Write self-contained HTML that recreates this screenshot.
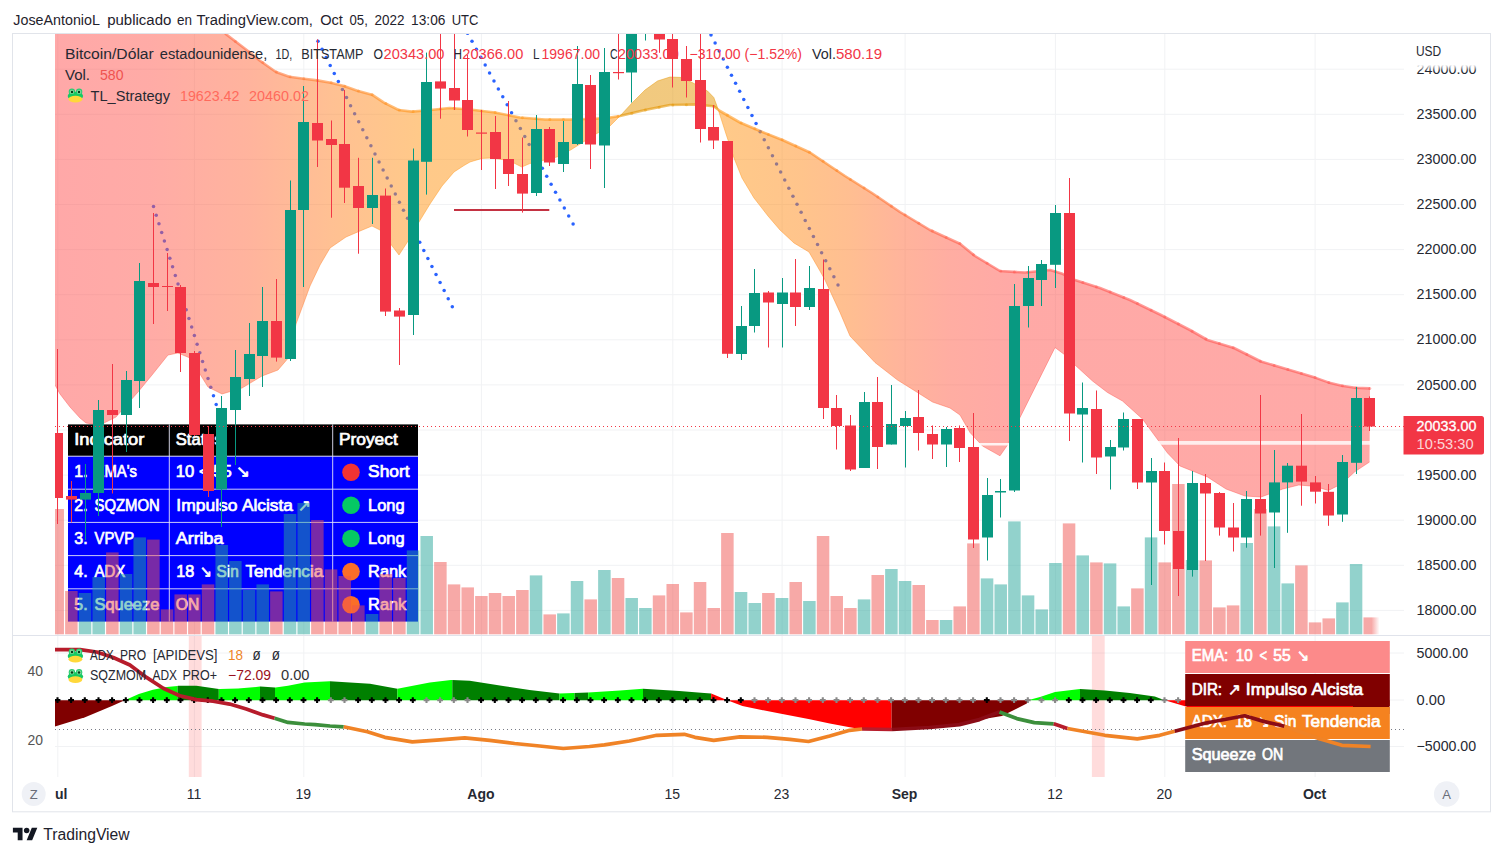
<!DOCTYPE html>
<html><head><meta charset="utf-8"><title>chart</title><style>html,body{margin:0;padding:0;background:#fff;overflow:hidden;width:1503px;height:856px}svg{display:block}</style></head><body>
<svg width="1503" height="856" viewBox="0 0 1503 856" font-family='"Liberation Sans", sans-serif'>
<defs>
<clipPath id="mc"><rect x="55" y="34" width="1349" height="601"/></clipPath>
<clipPath id="bc"><rect x="55" y="636" width="1349" height="141"/></clipPath>
<linearGradient id="cg" gradientUnits="userSpaceOnUse" x1="55" y1="0" x2="1370" y2="0">
<stop offset="0.0000" stop-color="rgb(255, 82, 82)"/>
<stop offset="0.0722" stop-color="rgb(255, 88, 78)"/>
<stop offset="0.1483" stop-color="rgb(255, 105, 60)"/>
<stop offset="0.2091" stop-color="rgb(255, 130, 40)"/>
<stop offset="0.2776" stop-color="rgb(255, 148, 20)"/>
<stop offset="0.4293" stop-color="rgb(255, 150, 20)"/>
<stop offset="0.4300" stop-color="rgb(228, 148, 0)"/>
<stop offset="0.5034" stop-color="rgb(228, 148, 0)"/>
<stop offset="0.5042" stop-color="rgb(255, 150, 20)"/>
<stop offset="0.5665" stop-color="rgb(255, 138, 25)"/>
<stop offset="0.6046" stop-color="rgb(255, 126, 36)"/>
<stop offset="0.6426" stop-color="rgb(255, 106, 56)"/>
<stop offset="0.6806" stop-color="rgb(255, 92, 70)"/>
<stop offset="0.7262" stop-color="rgb(255, 84, 78)"/>
<stop offset="1.0000" stop-color="rgb(255, 84, 80)"/>
</linearGradient>
<g id="frog"><circle cx="4.4" cy="4.3" r="3.2" fill="#2bcb72"/><circle cx="11.6" cy="4.3" r="3.2" fill="#2bcb72"/><ellipse cx="7.9" cy="8.6" rx="7.7" ry="4.4" fill="#17c964"/><circle cx="4.4" cy="4.4" r="2.2" fill="#7fdc9c"/><circle cx="11.6" cy="4.4" r="2.2" fill="#7fdc9c"/><circle cx="4.5" cy="4.5" r="1.2" fill="#053d17"/><circle cx="11.5" cy="4.5" r="1.2" fill="#053d17"/><ellipse cx="7.9" cy="11.7" rx="6.9" ry="3.4" fill="#ffd83a"/></g>
</defs>
<rect width="1503" height="856" fill="#fff"/>
<rect x="12.5" y="33.5" width="1478" height="778.3" fill="none" stroke="#e1e4ea" stroke-width="1"/>
<line x1="57.8" y1="34" x2="57.8" y2="777" stroke="#f1f2f4" stroke-width="1"/>
<line x1="194.4" y1="34" x2="194.4" y2="777" stroke="#f1f2f4" stroke-width="1"/>
<line x1="303.8" y1="34" x2="303.8" y2="777" stroke="#f1f2f4" stroke-width="1"/>
<line x1="481.4" y1="34" x2="481.4" y2="777" stroke="#f1f2f4" stroke-width="1"/>
<line x1="672.8" y1="34" x2="672.8" y2="777" stroke="#f1f2f4" stroke-width="1"/>
<line x1="782.1" y1="34" x2="782.1" y2="777" stroke="#f1f2f4" stroke-width="1"/>
<line x1="905.1" y1="34" x2="905.1" y2="777" stroke="#f1f2f4" stroke-width="1"/>
<line x1="1055.4" y1="34" x2="1055.4" y2="777" stroke="#f1f2f4" stroke-width="1"/>
<line x1="1164.8" y1="34" x2="1164.8" y2="777" stroke="#f1f2f4" stroke-width="1"/>
<line x1="1315.1" y1="34" x2="1315.1" y2="777" stroke="#f1f2f4" stroke-width="1"/>
<line x1="55" y1="69.2" x2="1404" y2="69.2" stroke="#f1f2f4" stroke-width="1"/>
<line x1="55" y1="114.3" x2="1404" y2="114.3" stroke="#f1f2f4" stroke-width="1"/>
<line x1="55" y1="159.4" x2="1404" y2="159.4" stroke="#f1f2f4" stroke-width="1"/>
<line x1="55" y1="204.5" x2="1404" y2="204.5" stroke="#f1f2f4" stroke-width="1"/>
<line x1="55" y1="249.6" x2="1404" y2="249.6" stroke="#f1f2f4" stroke-width="1"/>
<line x1="55" y1="294.7" x2="1404" y2="294.7" stroke="#f1f2f4" stroke-width="1"/>
<line x1="55" y1="339.8" x2="1404" y2="339.8" stroke="#f1f2f4" stroke-width="1"/>
<line x1="55" y1="384.9" x2="1404" y2="384.9" stroke="#f1f2f4" stroke-width="1"/>
<line x1="55" y1="430.0" x2="1404" y2="430.0" stroke="#f1f2f4" stroke-width="1"/>
<line x1="55" y1="475.1" x2="1404" y2="475.1" stroke="#f1f2f4" stroke-width="1"/>
<line x1="55" y1="520.2" x2="1404" y2="520.2" stroke="#f1f2f4" stroke-width="1"/>
<line x1="55" y1="565.3" x2="1404" y2="565.3" stroke="#f1f2f4" stroke-width="1"/>
<line x1="55" y1="610.4" x2="1404" y2="610.4" stroke="#f1f2f4" stroke-width="1"/>
<line x1="55" y1="653" x2="1404" y2="653" stroke="#f1f2f4" stroke-width="1"/>
<line x1="55" y1="700" x2="1404" y2="700" stroke="#f1f2f4" stroke-width="1"/>
<line x1="55" y1="746.5" x2="1404" y2="746.5" stroke="#f1f2f4" stroke-width="1"/>
<line x1="13" y1="635.5" x2="1490" y2="635.5" stroke="#e0e3eb" stroke-width="1"/>
<line x1="13" y1="777.5" x2="1490" y2="777.5" stroke="#fff" stroke-width="1"/>
<g clip-path="url(#mc)">
<circle cx="153.50" cy="206.60" r="1.75" fill="#2962ff"/>
<circle cx="156.23" cy="215.20" r="1.75" fill="#2962ff"/>
<circle cx="158.95" cy="223.80" r="1.75" fill="#2962ff"/>
<circle cx="161.68" cy="232.40" r="1.75" fill="#2962ff"/>
<circle cx="164.40" cy="241.00" r="1.75" fill="#2962ff"/>
<circle cx="167.13" cy="249.60" r="1.75" fill="#2962ff"/>
<circle cx="169.86" cy="258.20" r="1.75" fill="#2962ff"/>
<circle cx="172.58" cy="266.80" r="1.75" fill="#2962ff"/>
<circle cx="175.31" cy="275.40" r="1.75" fill="#2962ff"/>
<circle cx="178.03" cy="284.00" r="1.75" fill="#2962ff"/>
<circle cx="180.76" cy="292.60" r="1.75" fill="#2962ff"/>
<circle cx="183.49" cy="301.20" r="1.75" fill="#2962ff"/>
<circle cx="186.21" cy="309.80" r="1.75" fill="#2962ff"/>
<circle cx="188.94" cy="318.40" r="1.75" fill="#2962ff"/>
<circle cx="191.67" cy="327.00" r="1.75" fill="#2962ff"/>
<circle cx="194.39" cy="335.60" r="1.75" fill="#2962ff"/>
<circle cx="197.12" cy="344.20" r="1.75" fill="#2962ff"/>
<circle cx="199.84" cy="352.80" r="1.75" fill="#2962ff"/>
<circle cx="202.57" cy="361.40" r="1.75" fill="#2962ff"/>
<circle cx="205.30" cy="370.00" r="1.75" fill="#2962ff"/>
<circle cx="208.02" cy="378.60" r="1.75" fill="#2962ff"/>
<circle cx="210.75" cy="387.20" r="1.75" fill="#2962ff"/>
<circle cx="213.47" cy="395.80" r="1.75" fill="#2962ff"/>
<circle cx="216.20" cy="404.40" r="1.75" fill="#2962ff"/>
<circle cx="318.00" cy="41.30" r="1.75" fill="#2962ff"/>
<circle cx="322.07" cy="49.34" r="1.75" fill="#2962ff"/>
<circle cx="326.14" cy="57.38" r="1.75" fill="#2962ff"/>
<circle cx="330.21" cy="65.43" r="1.75" fill="#2962ff"/>
<circle cx="334.28" cy="73.47" r="1.75" fill="#2962ff"/>
<circle cx="338.35" cy="81.51" r="1.75" fill="#2962ff"/>
<circle cx="342.42" cy="89.55" r="1.75" fill="#2962ff"/>
<circle cx="346.49" cy="97.60" r="1.75" fill="#2962ff"/>
<circle cx="350.56" cy="105.64" r="1.75" fill="#2962ff"/>
<circle cx="354.63" cy="113.68" r="1.75" fill="#2962ff"/>
<circle cx="358.70" cy="121.72" r="1.75" fill="#2962ff"/>
<circle cx="362.77" cy="129.77" r="1.75" fill="#2962ff"/>
<circle cx="366.84" cy="137.81" r="1.75" fill="#2962ff"/>
<circle cx="370.91" cy="145.85" r="1.75" fill="#2962ff"/>
<circle cx="374.98" cy="153.89" r="1.75" fill="#2962ff"/>
<circle cx="379.05" cy="161.94" r="1.75" fill="#2962ff"/>
<circle cx="383.12" cy="169.98" r="1.75" fill="#2962ff"/>
<circle cx="387.18" cy="178.02" r="1.75" fill="#2962ff"/>
<circle cx="391.25" cy="186.06" r="1.75" fill="#2962ff"/>
<circle cx="395.32" cy="194.11" r="1.75" fill="#2962ff"/>
<circle cx="399.39" cy="202.15" r="1.75" fill="#2962ff"/>
<circle cx="403.46" cy="210.19" r="1.75" fill="#2962ff"/>
<circle cx="407.53" cy="218.23" r="1.75" fill="#2962ff"/>
<circle cx="411.60" cy="226.28" r="1.75" fill="#2962ff"/>
<circle cx="415.67" cy="234.32" r="1.75" fill="#2962ff"/>
<circle cx="419.74" cy="242.36" r="1.75" fill="#2962ff"/>
<circle cx="423.81" cy="250.40" r="1.75" fill="#2962ff"/>
<circle cx="427.88" cy="258.45" r="1.75" fill="#2962ff"/>
<circle cx="431.95" cy="266.49" r="1.75" fill="#2962ff"/>
<circle cx="436.02" cy="274.53" r="1.75" fill="#2962ff"/>
<circle cx="440.09" cy="282.57" r="1.75" fill="#2962ff"/>
<circle cx="444.16" cy="290.62" r="1.75" fill="#2962ff"/>
<circle cx="448.23" cy="298.66" r="1.75" fill="#2962ff"/>
<circle cx="452.30" cy="306.70" r="1.75" fill="#2962ff"/>
<circle cx="463.21" cy="25.37" r="1.75" fill="#2962ff"/>
<circle cx="467.60" cy="33.31" r="1.75" fill="#2962ff"/>
<circle cx="472.00" cy="41.25" r="1.75" fill="#2962ff"/>
<circle cx="476.40" cy="49.19" r="1.75" fill="#2962ff"/>
<circle cx="480.79" cy="57.13" r="1.75" fill="#2962ff"/>
<circle cx="485.19" cy="65.07" r="1.75" fill="#2962ff"/>
<circle cx="489.58" cy="73.02" r="1.75" fill="#2962ff"/>
<circle cx="493.98" cy="80.96" r="1.75" fill="#2962ff"/>
<circle cx="498.37" cy="88.90" r="1.75" fill="#2962ff"/>
<circle cx="502.77" cy="96.84" r="1.75" fill="#2962ff"/>
<circle cx="507.17" cy="104.78" r="1.75" fill="#2962ff"/>
<circle cx="511.56" cy="112.72" r="1.75" fill="#2962ff"/>
<circle cx="515.96" cy="120.66" r="1.75" fill="#2962ff"/>
<circle cx="520.35" cy="128.60" r="1.75" fill="#2962ff"/>
<circle cx="524.75" cy="136.55" r="1.75" fill="#2962ff"/>
<circle cx="529.14" cy="144.49" r="1.75" fill="#2962ff"/>
<circle cx="533.54" cy="152.43" r="1.75" fill="#2962ff"/>
<circle cx="537.93" cy="160.37" r="1.75" fill="#2962ff"/>
<circle cx="542.33" cy="168.31" r="1.75" fill="#2962ff"/>
<circle cx="546.73" cy="176.25" r="1.75" fill="#2962ff"/>
<circle cx="551.12" cy="184.19" r="1.75" fill="#2962ff"/>
<circle cx="555.52" cy="192.13" r="1.75" fill="#2962ff"/>
<circle cx="559.91" cy="200.08" r="1.75" fill="#2962ff"/>
<circle cx="564.31" cy="208.02" r="1.75" fill="#2962ff"/>
<circle cx="568.70" cy="215.96" r="1.75" fill="#2962ff"/>
<circle cx="573.10" cy="223.90" r="1.75" fill="#2962ff"/>
<circle cx="706.90" cy="26.84" r="1.75" fill="#2962ff"/>
<circle cx="711.00" cy="34.90" r="1.75" fill="#2962ff"/>
<circle cx="715.10" cy="42.96" r="1.75" fill="#2962ff"/>
<circle cx="719.19" cy="51.03" r="1.75" fill="#2962ff"/>
<circle cx="723.29" cy="59.09" r="1.75" fill="#2962ff"/>
<circle cx="727.39" cy="67.16" r="1.75" fill="#2962ff"/>
<circle cx="731.48" cy="75.22" r="1.75" fill="#2962ff"/>
<circle cx="735.58" cy="83.29" r="1.75" fill="#2962ff"/>
<circle cx="739.68" cy="91.35" r="1.75" fill="#2962ff"/>
<circle cx="743.77" cy="99.42" r="1.75" fill="#2962ff"/>
<circle cx="747.87" cy="107.48" r="1.75" fill="#2962ff"/>
<circle cx="751.97" cy="115.55" r="1.75" fill="#2962ff"/>
<circle cx="756.06" cy="123.61" r="1.75" fill="#2962ff"/>
<circle cx="760.16" cy="131.67" r="1.75" fill="#2962ff"/>
<circle cx="764.26" cy="139.74" r="1.75" fill="#2962ff"/>
<circle cx="768.35" cy="147.80" r="1.75" fill="#2962ff"/>
<circle cx="772.45" cy="155.87" r="1.75" fill="#2962ff"/>
<circle cx="776.55" cy="163.93" r="1.75" fill="#2962ff"/>
<circle cx="780.65" cy="172.00" r="1.75" fill="#2962ff"/>
<circle cx="784.74" cy="180.06" r="1.75" fill="#2962ff"/>
<circle cx="788.84" cy="188.13" r="1.75" fill="#2962ff"/>
<circle cx="792.94" cy="196.19" r="1.75" fill="#2962ff"/>
<circle cx="797.03" cy="204.25" r="1.75" fill="#2962ff"/>
<circle cx="801.13" cy="212.32" r="1.75" fill="#2962ff"/>
<circle cx="805.23" cy="220.38" r="1.75" fill="#2962ff"/>
<circle cx="809.32" cy="228.45" r="1.75" fill="#2962ff"/>
<circle cx="813.42" cy="236.51" r="1.75" fill="#2962ff"/>
<circle cx="817.52" cy="244.58" r="1.75" fill="#2962ff"/>
<circle cx="821.61" cy="252.64" r="1.75" fill="#2962ff"/>
<circle cx="825.71" cy="260.71" r="1.75" fill="#2962ff"/>
<circle cx="829.81" cy="268.77" r="1.75" fill="#2962ff"/>
<circle cx="833.90" cy="276.84" r="1.75" fill="#2962ff"/>
<circle cx="838.00" cy="284.90" r="1.75" fill="#2962ff"/>
<polygon points="55.0,20.0 215.0,24.0 226.7,34.7 246.7,50.0 260.0,60.7 276.0,72.0 289.3,76.7 304.0,78.7 317.3,80.4 330.7,82.7 344.0,86.0 357.3,90.7 372.0,94.7 384.0,102.7 398.7,110.0 412.0,111.6 428.0,110.3 449.5,108.0 470.0,109.5 495.0,112.5 520.0,117.5 545.0,119.5 570.0,119.5 595.0,118.8 610.0,117.5 620.0,116.0 645.0,110.0 670.0,105.0 695.0,104.5 713.8,106.2 720.0,111.0 740.0,122.5 760.0,131.0 782.5,140.0 810.0,152.5 830.0,166.0 845.0,176.0 872.0,193.0 900.0,212.0 930.0,230.0 960.0,243.8 975.0,256.0 1000.0,271.0 1025.0,272.5 1050.0,270.0 1062.5,273.8 1075.0,280.0 1100.0,288.0 1130.0,300.0 1160.0,314.5 1190.0,330.0 1207.5,340.0 1234.0,348.0 1261.0,361.5 1288.0,369.5 1315.0,377.6 1328.4,382.4 1341.8,385.7 1355.0,387.8 1370.0,388.4 1369.5,462.0 1355.0,471.6 1341.8,483.7 1328.4,490.5 1315.0,486.4 1298.8,485.0 1282.7,489.0 1261.0,497.0 1245.0,496.0 1226.0,489.0 1207.5,477.0 1195.0,472.0 1180.0,466.0 1167.5,453.0 1155.0,436.0 1142.5,419.0 1122.5,401.0 1107.5,392.5 1092.5,381.0 1075.0,365.0 1065.0,355.0 1055.0,347.5 1042.5,372.5 1030.0,397.5 1020.0,417.5 1007.5,445.0 1000.0,455.8 982.5,446.0 970.0,432.5 960.0,415.0 950.0,408.0 932.5,402.0 917.5,392.5 897.5,380.0 875.0,362.5 850.0,336.0 840.0,312.5 825.0,280.0 820.0,271.0 809.0,252.0 794.0,243.0 780.0,230.0 768.0,216.0 754.0,198.0 742.0,178.0 734.0,158.0 726.0,134.0 717.5,107.5 713.8,97.5 707.5,91.0 695.0,84.0 682.5,77.5 670.0,77.0 657.5,81.0 645.0,90.0 632.5,102.5 620.0,116.0 610.0,126.0 596.0,134.0 582.5,142.5 570.6,150.0 557.0,157.0 545.0,160.0 529.8,163.6 521.8,167.0 513.9,163.0 502.6,159.6 491.2,158.0 482.0,158.4 470.0,162.0 464.0,165.5 454.0,172.0 442.0,186.0 430.0,204.0 419.0,222.0 410.0,238.0 399.0,255.0 380.0,230.0 372.0,226.0 360.0,231.0 346.0,237.0 330.0,248.0 320.0,265.0 310.0,286.0 303.0,305.0 296.0,324.0 290.0,356.0 278.0,370.0 262.0,376.0 242.0,388.0 222.0,394.0 208.0,387.0 190.0,358.0 178.0,353.0 168.0,355.0 152.0,375.0 138.0,392.0 116.0,417.0 100.0,425.0 86.0,423.0 80.0,418.0 70.0,407.0 60.0,394.0 55.0,385.0" fill="url(#cg)" fill-opacity="0.5" fill-rule="nonzero"/>
<polyline points="55.0,20.0 215.0,24.0 226.7,34.7 246.7,50.0 260.0,60.7 276.0,72.0 289.3,76.7 304.0,78.7 317.3,80.4 330.7,82.7 344.0,86.0 357.3,90.7 372.0,94.7 384.0,102.7 398.7,110.0 412.0,111.6 428.0,110.3 449.5,108.0 470.0,109.5 495.0,112.5 520.0,117.5 545.0,119.5 570.0,119.5 595.0,118.8 610.0,117.5 620.0,116.0 645.0,110.0 670.0,105.0 695.0,104.5 713.8,106.2 720.0,111.0 740.0,122.5 760.0,131.0 782.5,140.0 810.0,152.5 830.0,166.0 845.0,176.0 872.0,193.0 900.0,212.0 930.0,230.0 960.0,243.8 975.0,256.0 1000.0,271.0 1025.0,272.5 1050.0,270.0 1062.5,273.8 1075.0,280.0 1100.0,288.0 1130.0,300.0 1160.0,314.5 1190.0,330.0 1207.5,340.0 1234.0,348.0 1261.0,361.5 1288.0,369.5 1315.0,377.6 1328.4,382.4 1341.8,385.7 1355.0,387.8 1370.0,388.4" fill="none" stroke="url(#cg)" stroke-opacity="0.58" stroke-width="2.6" stroke-linejoin="round"/>
<circle cx="221.8" cy="30.2" r="1.5" fill="url(#cg)" fill-opacity="0.45"/>
<circle cx="235.4" cy="41.4" r="1.5" fill="url(#cg)" fill-opacity="0.45"/>
<circle cx="249.1" cy="51.9" r="1.5" fill="url(#cg)" fill-opacity="0.45"/>
<circle cx="262.8" cy="62.6" r="1.5" fill="url(#cg)" fill-opacity="0.45"/>
<circle cx="276.4" cy="72.1" r="1.5" fill="url(#cg)" fill-opacity="0.45"/>
<circle cx="290.1" cy="76.8" r="1.5" fill="url(#cg)" fill-opacity="0.45"/>
<circle cx="303.8" cy="78.7" r="1.5" fill="url(#cg)" fill-opacity="0.45"/>
<circle cx="317.4" cy="80.4" r="1.5" fill="url(#cg)" fill-opacity="0.45"/>
<circle cx="331.1" cy="82.8" r="1.5" fill="url(#cg)" fill-opacity="0.45"/>
<circle cx="344.8" cy="86.3" r="1.5" fill="url(#cg)" fill-opacity="0.45"/>
<circle cx="358.4" cy="91.0" r="1.5" fill="url(#cg)" fill-opacity="0.45"/>
<circle cx="372.1" cy="94.8" r="1.5" fill="url(#cg)" fill-opacity="0.45"/>
<circle cx="385.8" cy="103.6" r="1.5" fill="url(#cg)" fill-opacity="0.45"/>
<circle cx="399.4" cy="110.1" r="1.5" fill="url(#cg)" fill-opacity="0.45"/>
<circle cx="413.1" cy="111.5" r="1.5" fill="url(#cg)" fill-opacity="0.45"/>
<circle cx="426.8" cy="110.4" r="1.5" fill="url(#cg)" fill-opacity="0.45"/>
<circle cx="440.4" cy="109.0" r="1.5" fill="url(#cg)" fill-opacity="0.45"/>
<circle cx="454.1" cy="108.3" r="1.5" fill="url(#cg)" fill-opacity="0.45"/>
<circle cx="467.8" cy="109.3" r="1.5" fill="url(#cg)" fill-opacity="0.45"/>
<circle cx="481.4" cy="110.9" r="1.5" fill="url(#cg)" fill-opacity="0.45"/>
<circle cx="495.1" cy="112.5" r="1.5" fill="url(#cg)" fill-opacity="0.45"/>
<circle cx="508.8" cy="115.3" r="1.5" fill="url(#cg)" fill-opacity="0.45"/>
<circle cx="522.4" cy="117.7" r="1.5" fill="url(#cg)" fill-opacity="0.45"/>
<circle cx="536.1" cy="118.8" r="1.5" fill="url(#cg)" fill-opacity="0.45"/>
<circle cx="549.8" cy="119.5" r="1.5" fill="url(#cg)" fill-opacity="0.45"/>
<circle cx="563.4" cy="119.5" r="1.5" fill="url(#cg)" fill-opacity="0.45"/>
<circle cx="577.1" cy="119.3" r="1.5" fill="url(#cg)" fill-opacity="0.45"/>
<circle cx="590.8" cy="118.9" r="1.5" fill="url(#cg)" fill-opacity="0.45"/>
<circle cx="604.4" cy="118.0" r="1.5" fill="url(#cg)" fill-opacity="0.45"/>
<circle cx="618.1" cy="116.3" r="1.5" fill="url(#cg)" fill-opacity="0.45"/>
<circle cx="631.8" cy="113.2" r="1.5" fill="url(#cg)" fill-opacity="0.45"/>
<circle cx="645.4" cy="109.9" r="1.5" fill="url(#cg)" fill-opacity="0.45"/>
<circle cx="659.1" cy="107.2" r="1.5" fill="url(#cg)" fill-opacity="0.45"/>
<circle cx="672.8" cy="104.9" r="1.5" fill="url(#cg)" fill-opacity="0.45"/>
<circle cx="686.4" cy="104.7" r="1.5" fill="url(#cg)" fill-opacity="0.45"/>
<circle cx="700.1" cy="105.0" r="1.5" fill="url(#cg)" fill-opacity="0.45"/>
<circle cx="713.8" cy="106.3" r="1.5" fill="url(#cg)" fill-opacity="0.45"/>
<circle cx="727.4" cy="115.3" r="1.5" fill="url(#cg)" fill-opacity="0.45"/>
<circle cx="741.1" cy="123.0" r="1.5" fill="url(#cg)" fill-opacity="0.45"/>
<circle cx="754.8" cy="128.8" r="1.5" fill="url(#cg)" fill-opacity="0.45"/>
<circle cx="768.4" cy="134.4" r="1.5" fill="url(#cg)" fill-opacity="0.45"/>
<circle cx="782.1" cy="139.8" r="1.5" fill="url(#cg)" fill-opacity="0.45"/>
<circle cx="795.8" cy="146.0" r="1.5" fill="url(#cg)" fill-opacity="0.45"/>
<circle cx="809.4" cy="152.2" r="1.5" fill="url(#cg)" fill-opacity="0.45"/>
<circle cx="823.1" cy="161.3" r="1.5" fill="url(#cg)" fill-opacity="0.45"/>
<circle cx="836.8" cy="170.5" r="1.5" fill="url(#cg)" fill-opacity="0.45"/>
<circle cx="850.4" cy="179.4" r="1.5" fill="url(#cg)" fill-opacity="0.45"/>
<circle cx="864.1" cy="188.0" r="1.5" fill="url(#cg)" fill-opacity="0.45"/>
<circle cx="877.8" cy="196.9" r="1.5" fill="url(#cg)" fill-opacity="0.45"/>
<circle cx="891.4" cy="206.2" r="1.5" fill="url(#cg)" fill-opacity="0.45"/>
<circle cx="905.1" cy="215.1" r="1.5" fill="url(#cg)" fill-opacity="0.45"/>
<circle cx="918.8" cy="223.3" r="1.5" fill="url(#cg)" fill-opacity="0.45"/>
<circle cx="932.4" cy="231.1" r="1.5" fill="url(#cg)" fill-opacity="0.45"/>
<circle cx="946.1" cy="237.4" r="1.5" fill="url(#cg)" fill-opacity="0.45"/>
<circle cx="959.8" cy="243.6" r="1.5" fill="url(#cg)" fill-opacity="0.45"/>
<circle cx="973.4" cy="254.7" r="1.5" fill="url(#cg)" fill-opacity="0.45"/>
<circle cx="987.1" cy="263.3" r="1.5" fill="url(#cg)" fill-opacity="0.45"/>
<circle cx="1000.8" cy="271.0" r="1.5" fill="url(#cg)" fill-opacity="0.45"/>
<circle cx="1014.4" cy="271.9" r="1.5" fill="url(#cg)" fill-opacity="0.45"/>
<circle cx="1028.1" cy="272.2" r="1.5" fill="url(#cg)" fill-opacity="0.45"/>
<circle cx="1041.8" cy="270.8" r="1.5" fill="url(#cg)" fill-opacity="0.45"/>
<circle cx="1055.4" cy="271.6" r="1.5" fill="url(#cg)" fill-opacity="0.45"/>
<circle cx="1069.1" cy="277.1" r="1.5" fill="url(#cg)" fill-opacity="0.45"/>
<circle cx="1082.8" cy="282.5" r="1.5" fill="url(#cg)" fill-opacity="0.45"/>
<circle cx="1096.4" cy="286.9" r="1.5" fill="url(#cg)" fill-opacity="0.45"/>
<circle cx="1110.1" cy="292.0" r="1.5" fill="url(#cg)" fill-opacity="0.45"/>
<circle cx="1123.8" cy="297.5" r="1.5" fill="url(#cg)" fill-opacity="0.45"/>
<circle cx="1137.4" cy="303.6" r="1.5" fill="url(#cg)" fill-opacity="0.45"/>
<circle cx="1151.1" cy="310.2" r="1.5" fill="url(#cg)" fill-opacity="0.45"/>
<circle cx="1164.8" cy="317.0" r="1.5" fill="url(#cg)" fill-opacity="0.45"/>
<circle cx="1178.4" cy="324.0" r="1.5" fill="url(#cg)" fill-opacity="0.45"/>
<circle cx="1192.1" cy="331.2" r="1.5" fill="url(#cg)" fill-opacity="0.45"/>
<circle cx="1205.8" cy="339.0" r="1.5" fill="url(#cg)" fill-opacity="0.45"/>
<circle cx="1219.4" cy="343.6" r="1.5" fill="url(#cg)" fill-opacity="0.45"/>
<circle cx="1233.1" cy="347.7" r="1.5" fill="url(#cg)" fill-opacity="0.45"/>
<circle cx="1246.8" cy="354.4" r="1.5" fill="url(#cg)" fill-opacity="0.45"/>
<circle cx="1260.4" cy="361.2" r="1.5" fill="url(#cg)" fill-opacity="0.45"/>
<circle cx="1274.1" cy="365.4" r="1.5" fill="url(#cg)" fill-opacity="0.45"/>
<circle cx="1287.8" cy="369.4" r="1.5" fill="url(#cg)" fill-opacity="0.45"/>
<circle cx="1301.4" cy="373.5" r="1.5" fill="url(#cg)" fill-opacity="0.45"/>
<circle cx="1315.1" cy="377.6" r="1.5" fill="url(#cg)" fill-opacity="0.45"/>
<circle cx="1328.8" cy="382.5" r="1.5" fill="url(#cg)" fill-opacity="0.45"/>
<circle cx="1342.4" cy="385.8" r="1.5" fill="url(#cg)" fill-opacity="0.45"/>
<circle cx="1356.1" cy="387.8" r="1.5" fill="url(#cg)" fill-opacity="0.45"/>
<circle cx="1369.8" cy="388.4" r="1.5" fill="url(#cg)" fill-opacity="0.45"/>
<polyline points="55.0,385.0 60.0,394.0 70.0,407.0 80.0,418.0 86.0,423.0 100.0,425.0 116.0,417.0 138.0,392.0 152.0,375.0 168.0,355.0 178.0,353.0 190.0,358.0 208.0,387.0 222.0,394.0 242.0,388.0 262.0,376.0 278.0,370.0 290.0,356.0 296.0,324.0 303.0,305.0 310.0,286.0 320.0,265.0 330.0,248.0 346.0,237.0 360.0,231.0 372.0,226.0 380.0,230.0 399.0,255.0 410.0,238.0 419.0,222.0 430.0,204.0 442.0,186.0 454.0,172.0 464.0,165.5 470.0,162.0 482.0,158.4 491.2,158.0 502.6,159.6 513.9,163.0 521.8,167.0 529.8,163.6 545.0,160.0 557.0,157.0 570.6,150.0 582.5,142.5 596.0,134.0 610.0,126.0 620.0,116.0 632.5,102.5 645.0,90.0 657.5,81.0 670.0,77.0 682.5,77.5 695.0,84.0 707.5,91.0 713.8,97.5 717.5,107.5 726.0,134.0 734.0,158.0 742.0,178.0 754.0,198.0 768.0,216.0 780.0,230.0 794.0,243.0 809.0,252.0 820.0,271.0 825.0,280.0 840.0,312.5 850.0,336.0 875.0,362.5 897.5,380.0 917.5,392.5 932.5,402.0 950.0,408.0 960.0,415.0 970.0,432.5 982.5,446.0 1000.0,455.8 1007.5,445.0 1020.0,417.5 1030.0,397.5 1042.5,372.5 1055.0,347.5 1065.0,355.0 1075.0,365.0 1092.5,381.0 1107.5,392.5 1122.5,401.0 1142.5,419.0 1155.0,436.0 1167.5,453.0 1180.0,466.0 1195.0,472.0 1207.5,477.0 1226.0,489.0 1245.0,496.0 1261.0,497.0 1282.7,489.0 1298.8,485.0 1315.0,486.4 1328.4,490.5 1341.8,483.7 1355.0,471.6 1369.5,462.0" fill="none" stroke="url(#cg)" stroke-opacity="0.45" stroke-width="1"/>
<line x1="454" y1="210" x2="549.3" y2="210" stroke="#c43242" stroke-width="2"/>
<line x1="979" y1="444.2" x2="1020" y2="444.2" stroke="#fff" stroke-opacity="0.85" stroke-width="2.4"/>
<line x1="1150" y1="442.9" x2="1371" y2="442.9" stroke="#fff" stroke-opacity="0.8" stroke-width="3.9"/>
</g>
<rect x="68" y="424.4" width="350" height="31.80000000000001" fill="#000"/>
<rect x="68" y="456.2" width="350" height="165.40000000000003" fill="#0000ff"/>
<line x1="68" y1="456.2" x2="418" y2="456.2" stroke="#e4e4f8" stroke-width="0.9"/>
<line x1="68" y1="489.2" x2="418" y2="489.2" stroke="#e4e4f8" stroke-width="0.9"/>
<line x1="68" y1="522.4" x2="418" y2="522.4" stroke="#e4e4f8" stroke-width="0.9"/>
<line x1="68" y1="555.6" x2="418" y2="555.6" stroke="#e4e4f8" stroke-width="0.9"/>
<line x1="68" y1="588.8" x2="418" y2="588.8" stroke="#e4e4f8" stroke-width="0.9"/>
<line x1="169.3" y1="424.4" x2="169.3" y2="621.6" stroke="#e4e4f8" stroke-width="0.9"/>
<line x1="332.7" y1="424.4" x2="332.7" y2="621.6" stroke="#e4e4f8" stroke-width="0.9"/>
<text x="74.3" y="444.6" font-size="16" fill="#fff" font-weight="400" text-anchor="start" textLength="70" lengthAdjust="spacingAndGlyphs" stroke="#fff" stroke-width="0.7">Indicator</text>
<text x="175.8" y="444.6" font-size="16" fill="#fff" font-weight="400" text-anchor="start" textLength="47" lengthAdjust="spacingAndGlyphs" stroke="#fff" stroke-width="0.7">Status</text>
<text x="339" y="444.6" font-size="16" fill="#fff" font-weight="400" text-anchor="start" textLength="58.7" lengthAdjust="spacingAndGlyphs" stroke="#fff" stroke-width="0.7">Proyect</text>
<text x="74.3" y="477.4" font-size="16" fill="#fff" font-weight="400" text-anchor="start" textLength="13.3" lengthAdjust="spacingAndGlyphs" stroke="#fff" stroke-width="0.7">1.</text>
<text x="94.5" y="477.4" font-size="16" fill="#fff" font-weight="400" text-anchor="start" textLength="42.4" lengthAdjust="spacingAndGlyphs" stroke="#fff" stroke-width="0.7">EMA's</text>
<text x="175.8" y="477.4" font-size="16" fill="#fff" font-weight="400" text-anchor="start" textLength="74" lengthAdjust="spacingAndGlyphs" stroke="#fff" stroke-width="0.7">10 &lt; 55 ↘</text>
<text x="74.3" y="510.6" font-size="16" fill="#fff" font-weight="400" text-anchor="start" textLength="13.3" lengthAdjust="spacingAndGlyphs" stroke="#fff" stroke-width="0.7">2.</text>
<text x="94.5" y="510.6" font-size="16" fill="#fff" font-weight="400" text-anchor="start" textLength="65.3" lengthAdjust="spacingAndGlyphs" stroke="#fff" stroke-width="0.7">SQZMON</text>
<text x="176.3" y="510.6" font-size="16" fill="#fff" font-weight="400" text-anchor="start" textLength="61.2" lengthAdjust="spacingAndGlyphs" stroke="#fff" stroke-width="0.7">Impulso</text>
<text x="241.9" y="510.6" font-size="16" fill="#fff" font-weight="400" text-anchor="start" textLength="51.0" lengthAdjust="spacingAndGlyphs" stroke="#fff" stroke-width="0.7">Alcista</text>
<text x="297.9" y="510.6" font-size="16" fill="#fff" font-weight="400" text-anchor="start" textLength="12.3" lengthAdjust="spacingAndGlyphs" stroke="#fff" stroke-width="0.7">↗</text>
<text x="74.3" y="543.8" font-size="16" fill="#fff" font-weight="400" text-anchor="start" textLength="13.3" lengthAdjust="spacingAndGlyphs" stroke="#fff" stroke-width="0.7">3.</text>
<text x="94.5" y="543.8" font-size="16" fill="#fff" font-weight="400" text-anchor="start" textLength="39.5" lengthAdjust="spacingAndGlyphs" stroke="#fff" stroke-width="0.7">VPVP</text>
<text x="175.8" y="543.8" font-size="16" fill="#fff" font-weight="400" text-anchor="start" textLength="47.6" lengthAdjust="spacingAndGlyphs" stroke="#fff" stroke-width="0.7">Arriba</text>
<text x="74.3" y="577" font-size="16" fill="#fff" font-weight="400" text-anchor="start" textLength="13.3" lengthAdjust="spacingAndGlyphs" stroke="#fff" stroke-width="0.7">4.</text>
<text x="94.5" y="577" font-size="16" fill="#fff" font-weight="400" text-anchor="start" textLength="30.8" lengthAdjust="spacingAndGlyphs" stroke="#fff" stroke-width="0.7">ADX</text>
<text x="176.3" y="577" font-size="16" fill="#fff" font-weight="400" text-anchor="start" textLength="18.0" lengthAdjust="spacingAndGlyphs" stroke="#fff" stroke-width="0.7">18</text>
<text x="199.5" y="577" font-size="16" fill="#fff" font-weight="400" text-anchor="start" textLength="11.5" lengthAdjust="spacingAndGlyphs" stroke="#fff" stroke-width="0.7">↘</text>
<text x="216.5" y="577" font-size="16" fill="#fff" font-weight="400" text-anchor="start" textLength="22.2" lengthAdjust="spacingAndGlyphs" stroke="#fff" stroke-width="0.7">Sin</text>
<text x="245.4" y="577" font-size="16" fill="#fff" font-weight="400" text-anchor="start" textLength="77.8" lengthAdjust="spacingAndGlyphs" stroke="#fff" stroke-width="0.7">Tendencia</text>
<text x="74.3" y="610" font-size="16" fill="#fff" font-weight="400" text-anchor="start" textLength="13.3" lengthAdjust="spacingAndGlyphs" stroke="#fff" stroke-width="0.7">5.</text>
<text x="94.5" y="610" font-size="16" fill="#fff" font-weight="400" text-anchor="start" textLength="64.8" lengthAdjust="spacingAndGlyphs" stroke="#fff" stroke-width="0.7">Squeeze</text>
<text x="175.8" y="610" font-size="16" fill="#fff" font-weight="400" text-anchor="start" textLength="23.5" lengthAdjust="spacingAndGlyphs" stroke="#fff" stroke-width="0.7">ON</text>
<circle cx="351" cy="472.2" r="8.8" fill="#f23333"/>
<text x="368.1" y="477.4" font-size="16" fill="#fff" font-weight="400" text-anchor="start" textLength="41.4" lengthAdjust="spacingAndGlyphs" stroke="#fff" stroke-width="0.7">Short</text>
<circle cx="351" cy="505.3" r="8.8" fill="#05c864"/>
<text x="368.1" y="510.54999999999995" font-size="16" fill="#fff" font-weight="400" text-anchor="start" textLength="36.5" lengthAdjust="spacingAndGlyphs" stroke="#fff" stroke-width="0.7">Long</text>
<circle cx="351" cy="538.5" r="8.8" fill="#05c864"/>
<text x="368.1" y="543.6999999999999" font-size="16" fill="#fff" font-weight="400" text-anchor="start" textLength="36.5" lengthAdjust="spacingAndGlyphs" stroke="#fff" stroke-width="0.7">Long</text>
<circle cx="351" cy="571.6" r="8.8" fill="#fb6e28"/>
<text x="368.1" y="576.8499999999999" font-size="16" fill="#fff" font-weight="400" text-anchor="start" textLength="38.2" lengthAdjust="spacingAndGlyphs" stroke="#fff" stroke-width="0.7">Rank</text>
<circle cx="351" cy="604.8" r="8.8" fill="#fb6e28"/>
<text x="368.1" y="610.0" font-size="16" fill="#fff" font-weight="400" text-anchor="start" textLength="38.2" lengthAdjust="spacingAndGlyphs" stroke="#fff" stroke-width="0.7">Rank</text>
<g clip-path="url(#mc)">
<rect x="51.45" y="509.0" width="12.5" height="125.3" fill="#ef5350" fill-opacity="0.5"/>
<rect x="65.12" y="591.0" width="12.5" height="43.3" fill="#ef5350" fill-opacity="0.5"/>
<rect x="78.78" y="593.0" width="12.5" height="41.3" fill="#26a69a" fill-opacity="0.5"/>
<rect x="92.45" y="577.0" width="12.5" height="57.3" fill="#26a69a" fill-opacity="0.5"/>
<rect x="106.12" y="552.4" width="12.5" height="81.9" fill="#ef5350" fill-opacity="0.5"/>
<rect x="119.78" y="574.0" width="12.5" height="60.3" fill="#26a69a" fill-opacity="0.5"/>
<rect x="133.45" y="537.4" width="12.5" height="96.9" fill="#26a69a" fill-opacity="0.5"/>
<rect x="147.12" y="539.6" width="12.5" height="94.7" fill="#ef5350" fill-opacity="0.5"/>
<rect x="160.79" y="609.4" width="12.5" height="24.9" fill="#ef5350" fill-opacity="0.5"/>
<rect x="174.45" y="594.4" width="12.5" height="39.9" fill="#ef5350" fill-opacity="0.5"/>
<rect x="188.12" y="594.4" width="12.5" height="39.9" fill="#ef5350" fill-opacity="0.5"/>
<rect x="201.79" y="584.4" width="12.5" height="49.9" fill="#ef5350" fill-opacity="0.5"/>
<rect x="215.45" y="545.0" width="12.5" height="89.3" fill="#26a69a" fill-opacity="0.5"/>
<rect x="229.12" y="561.0" width="12.5" height="73.3" fill="#26a69a" fill-opacity="0.5"/>
<rect x="242.79" y="590.0" width="12.5" height="44.3" fill="#26a69a" fill-opacity="0.5"/>
<rect x="256.45" y="584.4" width="12.5" height="49.9" fill="#26a69a" fill-opacity="0.5"/>
<rect x="270.12" y="591.4" width="12.5" height="42.9" fill="#ef5350" fill-opacity="0.5"/>
<rect x="283.79" y="514.0" width="12.5" height="120.3" fill="#26a69a" fill-opacity="0.5"/>
<rect x="297.46" y="503.0" width="12.5" height="131.3" fill="#26a69a" fill-opacity="0.5"/>
<rect x="311.12" y="520.0" width="12.5" height="114.3" fill="#ef5350" fill-opacity="0.5"/>
<rect x="324.79" y="569.4" width="12.5" height="64.9" fill="#ef5350" fill-opacity="0.5"/>
<rect x="338.46" y="576.0" width="12.5" height="58.3" fill="#ef5350" fill-opacity="0.5"/>
<rect x="352.12" y="605.4" width="12.5" height="28.9" fill="#ef5350" fill-opacity="0.5"/>
<rect x="365.79" y="614.0" width="12.5" height="20.3" fill="#26a69a" fill-opacity="0.5"/>
<rect x="379.46" y="574.0" width="12.5" height="60.3" fill="#ef5350" fill-opacity="0.5"/>
<rect x="393.12" y="578.0" width="12.5" height="56.3" fill="#ef5350" fill-opacity="0.5"/>
<rect x="406.79" y="550.4" width="12.5" height="83.9" fill="#26a69a" fill-opacity="0.5"/>
<rect x="420.46" y="536.0" width="12.5" height="98.3" fill="#26a69a" fill-opacity="0.5"/>
<rect x="434.13" y="562.0" width="12.5" height="72.3" fill="#ef5350" fill-opacity="0.5"/>
<rect x="447.79" y="584.4" width="12.5" height="49.9" fill="#ef5350" fill-opacity="0.5"/>
<rect x="461.46" y="587.4" width="12.5" height="46.9" fill="#ef5350" fill-opacity="0.5"/>
<rect x="475.13" y="596.0" width="12.5" height="38.3" fill="#ef5350" fill-opacity="0.5"/>
<rect x="488.79" y="593.0" width="12.5" height="41.3" fill="#ef5350" fill-opacity="0.5"/>
<rect x="502.46" y="596.0" width="12.5" height="38.3" fill="#ef5350" fill-opacity="0.5"/>
<rect x="516.13" y="590.0" width="12.5" height="44.3" fill="#ef5350" fill-opacity="0.5"/>
<rect x="529.80" y="575.4" width="12.5" height="58.9" fill="#26a69a" fill-opacity="0.5"/>
<rect x="543.46" y="614.4" width="12.5" height="19.9" fill="#ef5350" fill-opacity="0.5"/>
<rect x="557.13" y="613.4" width="12.5" height="20.9" fill="#26a69a" fill-opacity="0.5"/>
<rect x="570.80" y="581.0" width="12.5" height="53.3" fill="#26a69a" fill-opacity="0.5"/>
<rect x="584.46" y="599.4" width="12.5" height="34.9" fill="#ef5350" fill-opacity="0.5"/>
<rect x="598.13" y="570.0" width="12.5" height="64.3" fill="#26a69a" fill-opacity="0.5"/>
<rect x="611.80" y="578.0" width="12.5" height="56.3" fill="#ef5350" fill-opacity="0.5"/>
<rect x="625.46" y="598.0" width="12.5" height="36.3" fill="#26a69a" fill-opacity="0.5"/>
<rect x="639.13" y="608.0" width="12.5" height="26.3" fill="#26a69a" fill-opacity="0.5"/>
<rect x="652.80" y="595.4" width="12.5" height="38.9" fill="#ef5350" fill-opacity="0.5"/>
<rect x="666.47" y="584.0" width="12.5" height="50.3" fill="#ef5350" fill-opacity="0.5"/>
<rect x="680.13" y="612.4" width="12.5" height="21.9" fill="#ef5350" fill-opacity="0.5"/>
<rect x="693.80" y="582.0" width="12.5" height="52.3" fill="#ef5350" fill-opacity="0.5"/>
<rect x="707.47" y="608.0" width="12.5" height="26.3" fill="#ef5350" fill-opacity="0.5"/>
<rect x="721.13" y="533.0" width="12.5" height="101.3" fill="#ef5350" fill-opacity="0.5"/>
<rect x="734.80" y="592.0" width="12.5" height="42.3" fill="#26a69a" fill-opacity="0.5"/>
<rect x="748.47" y="603.0" width="12.5" height="31.3" fill="#26a69a" fill-opacity="0.5"/>
<rect x="762.13" y="593.0" width="12.5" height="41.3" fill="#ef5350" fill-opacity="0.5"/>
<rect x="775.80" y="598.0" width="12.5" height="36.3" fill="#26a69a" fill-opacity="0.5"/>
<rect x="789.47" y="582.0" width="12.5" height="52.3" fill="#ef5350" fill-opacity="0.5"/>
<rect x="803.13" y="601.0" width="12.5" height="33.3" fill="#26a69a" fill-opacity="0.5"/>
<rect x="816.80" y="536.0" width="12.5" height="98.3" fill="#ef5350" fill-opacity="0.5"/>
<rect x="830.47" y="596.0" width="12.5" height="38.3" fill="#ef5350" fill-opacity="0.5"/>
<rect x="844.14" y="608.0" width="12.5" height="26.3" fill="#ef5350" fill-opacity="0.5"/>
<rect x="857.80" y="599.4" width="12.5" height="34.9" fill="#26a69a" fill-opacity="0.5"/>
<rect x="871.47" y="575.0" width="12.5" height="59.3" fill="#ef5350" fill-opacity="0.5"/>
<rect x="885.14" y="569.0" width="12.5" height="65.3" fill="#26a69a" fill-opacity="0.5"/>
<rect x="898.80" y="581.0" width="12.5" height="53.3" fill="#26a69a" fill-opacity="0.5"/>
<rect x="912.47" y="585.0" width="12.5" height="49.3" fill="#ef5350" fill-opacity="0.5"/>
<rect x="926.14" y="620.0" width="12.5" height="14.3" fill="#ef5350" fill-opacity="0.5"/>
<rect x="939.81" y="620.0" width="12.5" height="14.3" fill="#26a69a" fill-opacity="0.5"/>
<rect x="953.47" y="606.4" width="12.5" height="27.9" fill="#ef5350" fill-opacity="0.5"/>
<rect x="967.14" y="543.4" width="12.5" height="90.9" fill="#ef5350" fill-opacity="0.5"/>
<rect x="980.81" y="578.4" width="12.5" height="55.9" fill="#26a69a" fill-opacity="0.5"/>
<rect x="994.47" y="584.4" width="12.5" height="49.9" fill="#26a69a" fill-opacity="0.5"/>
<rect x="1008.14" y="521.4" width="12.5" height="112.9" fill="#26a69a" fill-opacity="0.5"/>
<rect x="1021.81" y="595.4" width="12.5" height="38.9" fill="#26a69a" fill-opacity="0.5"/>
<rect x="1035.47" y="609.4" width="12.5" height="24.9" fill="#26a69a" fill-opacity="0.5"/>
<rect x="1049.14" y="563.0" width="12.5" height="71.3" fill="#26a69a" fill-opacity="0.5"/>
<rect x="1062.81" y="523.4" width="12.5" height="110.9" fill="#ef5350" fill-opacity="0.5"/>
<rect x="1076.48" y="555.4" width="12.5" height="78.9" fill="#26a69a" fill-opacity="0.5"/>
<rect x="1090.14" y="562.4" width="12.5" height="71.9" fill="#ef5350" fill-opacity="0.5"/>
<rect x="1103.81" y="563.4" width="12.5" height="70.9" fill="#26a69a" fill-opacity="0.5"/>
<rect x="1117.48" y="606.4" width="12.5" height="27.9" fill="#26a69a" fill-opacity="0.5"/>
<rect x="1131.14" y="588.4" width="12.5" height="45.9" fill="#ef5350" fill-opacity="0.5"/>
<rect x="1144.81" y="537.4" width="12.5" height="96.9" fill="#26a69a" fill-opacity="0.5"/>
<rect x="1158.48" y="562.4" width="12.5" height="71.9" fill="#ef5350" fill-opacity="0.5"/>
<rect x="1172.14" y="484.0" width="12.5" height="150.3" fill="#ef5350" fill-opacity="0.5"/>
<rect x="1185.81" y="560.0" width="12.5" height="74.3" fill="#26a69a" fill-opacity="0.5"/>
<rect x="1199.48" y="560.4" width="12.5" height="73.9" fill="#ef5350" fill-opacity="0.5"/>
<rect x="1213.14" y="607.4" width="12.5" height="26.9" fill="#ef5350" fill-opacity="0.5"/>
<rect x="1226.81" y="605.4" width="12.5" height="28.9" fill="#ef5350" fill-opacity="0.5"/>
<rect x="1240.48" y="543.0" width="12.5" height="91.3" fill="#26a69a" fill-opacity="0.5"/>
<rect x="1254.15" y="509.0" width="12.5" height="125.3" fill="#ef5350" fill-opacity="0.5"/>
<rect x="1267.81" y="526.4" width="12.5" height="107.9" fill="#26a69a" fill-opacity="0.5"/>
<rect x="1281.48" y="583.4" width="12.5" height="50.9" fill="#26a69a" fill-opacity="0.5"/>
<rect x="1295.15" y="565.4" width="12.5" height="68.9" fill="#ef5350" fill-opacity="0.5"/>
<rect x="1308.81" y="622.4" width="12.5" height="11.9" fill="#ef5350" fill-opacity="0.5"/>
<rect x="1322.48" y="618.4" width="12.5" height="15.9" fill="#ef5350" fill-opacity="0.5"/>
<rect x="1336.15" y="602.4" width="12.5" height="31.9" fill="#26a69a" fill-opacity="0.5"/>
<rect x="1349.82" y="564.0" width="12.5" height="70.3" fill="#26a69a" fill-opacity="0.5"/>
<linearGradient id="vf" x1="0" y1="0" x2="1" y2="0"><stop offset="0.5" stop-color="#ef5350" stop-opacity="0.5"/><stop offset="1" stop-color="#ef5350" stop-opacity="0"/></linearGradient>
<rect x="1363.48" y="617.4" width="16" height="16.9" fill="url(#vf)"/>
<rect x="57" y="349.0" width="1" height="175.0" fill="#f23645"/>
<rect x="52" y="433.0" width="11" height="65.0" fill="#f23645"/>
<rect x="71" y="481.0" width="1" height="41.4" fill="#f23645"/>
<rect x="66" y="496.0" width="11" height="3.6" fill="#f23645"/>
<rect x="85" y="464.0" width="1" height="76.0" fill="#089981"/>
<rect x="80" y="493.0" width="11" height="6.6" fill="#089981"/>
<rect x="98" y="400.0" width="1" height="116.0" fill="#089981"/>
<rect x="93" y="410.0" width="11" height="83.0" fill="#089981"/>
<rect x="112" y="364.0" width="1" height="129.5" fill="#f23645"/>
<rect x="107" y="410.0" width="11" height="5.0" fill="#f23645"/>
<rect x="126" y="371.0" width="1" height="81.0" fill="#089981"/>
<rect x="121" y="380.0" width="11" height="35.0" fill="#089981"/>
<rect x="139" y="263.0" width="1" height="145.0" fill="#089981"/>
<rect x="134" y="281.0" width="11" height="100.0" fill="#089981"/>
<rect x="153" y="213.0" width="1" height="111.0" fill="#f23645"/>
<rect x="148" y="283.0" width="11" height="4.0" fill="#f23645"/>
<rect x="167" y="253.0" width="1" height="58.0" fill="#f23645"/>
<rect x="162" y="286.0" width="11" height="1.0" fill="#f23645"/>
<rect x="180" y="285.0" width="1" height="87.0" fill="#f23645"/>
<rect x="175" y="287.0" width="11" height="66.0" fill="#f23645"/>
<rect x="194" y="351.0" width="1" height="85.0" fill="#f23645"/>
<rect x="189" y="353.0" width="11" height="82.0" fill="#f23645"/>
<rect x="208" y="426.0" width="1" height="71.0" fill="#f23645"/>
<rect x="203" y="434.0" width="11" height="57.0" fill="#f23645"/>
<rect x="221" y="396.0" width="1" height="131.0" fill="#089981"/>
<rect x="216" y="408.0" width="11" height="81.5" fill="#089981"/>
<rect x="235" y="350.0" width="1" height="115.0" fill="#089981"/>
<rect x="230" y="377.0" width="11" height="33.0" fill="#089981"/>
<rect x="249" y="323.0" width="1" height="73.0" fill="#089981"/>
<rect x="244" y="354.0" width="11" height="25.0" fill="#089981"/>
<rect x="262" y="287.0" width="1" height="100.0" fill="#089981"/>
<rect x="257" y="321.0" width="11" height="35.0" fill="#089981"/>
<rect x="276" y="279.0" width="1" height="82.6" fill="#f23645"/>
<rect x="271" y="321.0" width="11" height="36.6" fill="#f23645"/>
<rect x="290" y="180.5" width="1" height="180.5" fill="#089981"/>
<rect x="285" y="210.0" width="11" height="149.0" fill="#089981"/>
<rect x="303" y="86.0" width="1" height="201.0" fill="#089981"/>
<rect x="298" y="122.0" width="11" height="88.0" fill="#089981"/>
<rect x="317" y="39.3" width="1" height="127.7" fill="#f23645"/>
<rect x="312" y="123.0" width="11" height="17.5" fill="#f23645"/>
<rect x="331" y="120.5" width="1" height="97.2" fill="#f23645"/>
<rect x="326" y="139.0" width="11" height="6.0" fill="#f23645"/>
<rect x="344" y="90.0" width="1" height="113.0" fill="#f23645"/>
<rect x="339" y="144.0" width="11" height="43.7" fill="#f23645"/>
<rect x="358" y="157.8" width="1" height="95.9" fill="#f23645"/>
<rect x="353" y="186.0" width="11" height="22.0" fill="#f23645"/>
<rect x="372" y="157.8" width="1" height="66.2" fill="#089981"/>
<rect x="367" y="195.0" width="11" height="13.0" fill="#089981"/>
<rect x="385" y="188.5" width="1" height="127.5" fill="#f23645"/>
<rect x="380" y="195.6" width="11" height="116.0" fill="#f23645"/>
<rect x="399" y="308.0" width="1" height="57.0" fill="#f23645"/>
<rect x="394" y="310.5" width="11" height="6.1" fill="#f23645"/>
<rect x="413" y="148.5" width="1" height="186.5" fill="#089981"/>
<rect x="408" y="160.5" width="11" height="154.5" fill="#089981"/>
<rect x="426" y="52.6" width="1" height="142.0" fill="#089981"/>
<rect x="421" y="82.0" width="11" height="79.8" fill="#089981"/>
<rect x="440" y="30.0" width="1" height="88.7" fill="#f23645"/>
<rect x="435" y="81.4" width="11" height="7.2" fill="#f23645"/>
<rect x="454" y="30.0" width="1" height="80.0" fill="#f23645"/>
<rect x="449" y="88.0" width="11" height="12.5" fill="#f23645"/>
<rect x="467" y="55.0" width="1" height="81.5" fill="#f23645"/>
<rect x="462" y="100.0" width="11" height="30.0" fill="#f23645"/>
<rect x="481" y="110.0" width="1" height="60.0" fill="#f23645"/>
<rect x="476" y="132.5" width="11" height="1.2" fill="#f23645"/>
<rect x="495" y="116.0" width="1" height="73.0" fill="#f23645"/>
<rect x="490" y="132.0" width="11" height="27.0" fill="#f23645"/>
<rect x="508" y="101.0" width="1" height="85.0" fill="#f23645"/>
<rect x="503" y="159.0" width="11" height="15.0" fill="#f23645"/>
<rect x="522" y="137.5" width="1" height="75.1" fill="#f23645"/>
<rect x="517" y="174.0" width="11" height="19.6" fill="#f23645"/>
<rect x="536" y="115.0" width="1" height="81.0" fill="#089981"/>
<rect x="531" y="129.0" width="11" height="64.0" fill="#089981"/>
<rect x="549" y="127.0" width="1" height="39.0" fill="#f23645"/>
<rect x="544" y="129.0" width="11" height="33.5" fill="#f23645"/>
<rect x="563" y="121.0" width="1" height="51.0" fill="#089981"/>
<rect x="558" y="142.0" width="11" height="22.0" fill="#089981"/>
<rect x="577" y="46.0" width="1" height="99.0" fill="#089981"/>
<rect x="572" y="84.0" width="11" height="60.0" fill="#089981"/>
<rect x="590" y="75.0" width="1" height="94.0" fill="#f23645"/>
<rect x="585" y="85.0" width="11" height="59.5" fill="#f23645"/>
<rect x="604" y="48.0" width="1" height="140.0" fill="#089981"/>
<rect x="599" y="72.0" width="11" height="73.5" fill="#089981"/>
<rect x="618" y="30.0" width="1" height="49.5" fill="#f23645"/>
<rect x="613" y="72.0" width="11" height="1.2" fill="#f23645"/>
<rect x="631" y="25.0" width="1" height="77.5" fill="#089981"/>
<rect x="626" y="28.0" width="11" height="44.5" fill="#089981"/>
<rect x="645" y="10.0" width="1" height="30.5" fill="#089981"/>
<rect x="640" y="15.0" width="11" height="10.0" fill="#089981"/>
<rect x="659" y="20.0" width="1" height="32.8" fill="#f23645"/>
<rect x="654" y="25.0" width="11" height="14.5" fill="#f23645"/>
<rect x="672" y="25.0" width="1" height="62.5" fill="#f23645"/>
<rect x="667" y="39.0" width="11" height="20.0" fill="#f23645"/>
<rect x="686" y="46.0" width="1" height="51.5" fill="#f23645"/>
<rect x="681" y="59.0" width="11" height="22.0" fill="#f23645"/>
<rect x="700" y="30.0" width="1" height="112.5" fill="#f23645"/>
<rect x="695" y="80.0" width="11" height="49.0" fill="#f23645"/>
<rect x="713" y="105.0" width="1" height="44.0" fill="#f23645"/>
<rect x="708" y="127.0" width="11" height="13.5" fill="#f23645"/>
<rect x="727" y="141.0" width="1" height="217.0" fill="#f23645"/>
<rect x="722" y="141.0" width="11" height="212.8" fill="#f23645"/>
<rect x="741" y="306.0" width="1" height="54.0" fill="#089981"/>
<rect x="736" y="326.0" width="11" height="28.0" fill="#089981"/>
<rect x="754" y="269.0" width="1" height="63.5" fill="#089981"/>
<rect x="749" y="293.0" width="11" height="33.0" fill="#089981"/>
<rect x="768" y="291.0" width="1" height="56.5" fill="#f23645"/>
<rect x="763" y="292.5" width="11" height="10.0" fill="#f23645"/>
<rect x="782" y="278.0" width="1" height="69.5" fill="#089981"/>
<rect x="777" y="292.5" width="11" height="11.5" fill="#089981"/>
<rect x="795" y="259.0" width="1" height="67.0" fill="#f23645"/>
<rect x="790" y="292.5" width="11" height="14.5" fill="#f23645"/>
<rect x="809" y="266.0" width="1" height="44.0" fill="#089981"/>
<rect x="804" y="288.0" width="11" height="19.0" fill="#089981"/>
<rect x="823" y="259.5" width="1" height="159.5" fill="#f23645"/>
<rect x="818" y="289.0" width="11" height="119.0" fill="#f23645"/>
<rect x="836" y="395.0" width="1" height="54.5" fill="#f23645"/>
<rect x="831" y="408.0" width="11" height="18.0" fill="#f23645"/>
<rect x="850" y="415.0" width="1" height="56.0" fill="#f23645"/>
<rect x="845" y="425.5" width="11" height="44.0" fill="#f23645"/>
<rect x="864" y="392.0" width="1" height="76.0" fill="#089981"/>
<rect x="859" y="402.0" width="11" height="66.0" fill="#089981"/>
<rect x="877" y="377.0" width="1" height="92.0" fill="#f23645"/>
<rect x="872" y="402.0" width="11" height="45.0" fill="#f23645"/>
<rect x="891" y="385.0" width="1" height="59.5" fill="#089981"/>
<rect x="886" y="424.0" width="11" height="20.5" fill="#089981"/>
<rect x="905" y="411.0" width="1" height="56.5" fill="#089981"/>
<rect x="900" y="418.0" width="11" height="8.0" fill="#089981"/>
<rect x="918" y="390.0" width="1" height="60.5" fill="#f23645"/>
<rect x="913" y="417.0" width="11" height="16.0" fill="#f23645"/>
<rect x="932" y="425.5" width="1" height="33.5" fill="#f23645"/>
<rect x="927" y="434.0" width="11" height="10.5" fill="#f23645"/>
<rect x="946" y="427.0" width="1" height="40.0" fill="#089981"/>
<rect x="941" y="429.0" width="11" height="15.5" fill="#089981"/>
<rect x="959" y="425.5" width="1" height="36.5" fill="#f23645"/>
<rect x="954" y="428.0" width="11" height="20.0" fill="#f23645"/>
<rect x="973" y="413.0" width="1" height="135.0" fill="#f23645"/>
<rect x="968" y="447.0" width="11" height="92.5" fill="#f23645"/>
<rect x="987" y="478.0" width="1" height="82.5" fill="#089981"/>
<rect x="982" y="495.0" width="11" height="42.5" fill="#089981"/>
<rect x="1000" y="479.0" width="1" height="38.5" fill="#089981"/>
<rect x="995" y="491.0" width="11" height="1.5" fill="#089981"/>
<rect x="1014" y="284.0" width="1" height="208.0" fill="#089981"/>
<rect x="1009" y="306.0" width="11" height="184.5" fill="#089981"/>
<rect x="1028" y="266.0" width="1" height="61.5" fill="#089981"/>
<rect x="1023" y="278.0" width="11" height="28.0" fill="#089981"/>
<rect x="1041" y="260.0" width="1" height="46.0" fill="#089981"/>
<rect x="1036" y="264.0" width="11" height="16.0" fill="#089981"/>
<rect x="1055" y="205.0" width="1" height="83.0" fill="#089981"/>
<rect x="1050" y="213.0" width="11" height="51.8" fill="#089981"/>
<rect x="1069" y="178.0" width="1" height="263.0" fill="#f23645"/>
<rect x="1064" y="213.0" width="11" height="200.5" fill="#f23645"/>
<rect x="1082" y="382.5" width="1" height="80.0" fill="#089981"/>
<rect x="1077" y="408.0" width="11" height="6.5" fill="#089981"/>
<rect x="1096" y="390.5" width="1" height="83.5" fill="#f23645"/>
<rect x="1091" y="409.0" width="11" height="48.5" fill="#f23645"/>
<rect x="1110" y="440.0" width="1" height="49.5" fill="#089981"/>
<rect x="1105" y="447.0" width="11" height="9.5" fill="#089981"/>
<rect x="1123" y="412.5" width="1" height="38.0" fill="#089981"/>
<rect x="1118" y="419.0" width="11" height="28.5" fill="#089981"/>
<rect x="1137" y="419.0" width="1" height="70.0" fill="#f23645"/>
<rect x="1132" y="419.0" width="11" height="63.5" fill="#f23645"/>
<rect x="1151" y="458.0" width="1" height="127.0" fill="#089981"/>
<rect x="1146" y="471.0" width="11" height="11.5" fill="#089981"/>
<rect x="1164" y="462.5" width="1" height="82.0" fill="#f23645"/>
<rect x="1159" y="471.0" width="11" height="60.0" fill="#f23645"/>
<rect x="1178" y="438.0" width="1" height="158.0" fill="#f23645"/>
<rect x="1173" y="531.0" width="11" height="38.0" fill="#f23645"/>
<rect x="1192" y="471.0" width="1" height="105.6" fill="#089981"/>
<rect x="1187" y="483.0" width="11" height="87.0" fill="#089981"/>
<rect x="1205" y="474.0" width="1" height="87.0" fill="#f23645"/>
<rect x="1200" y="483.0" width="11" height="10.5" fill="#f23645"/>
<rect x="1219" y="492.0" width="1" height="43.6" fill="#f23645"/>
<rect x="1214" y="493.0" width="11" height="34.5" fill="#f23645"/>
<rect x="1233" y="503.0" width="1" height="48.5" fill="#f23645"/>
<rect x="1228" y="527.5" width="11" height="10.0" fill="#f23645"/>
<rect x="1246" y="491.0" width="1" height="56.7" fill="#089981"/>
<rect x="1241" y="499.0" width="11" height="38.5" fill="#089981"/>
<rect x="1260" y="395.0" width="1" height="140.6" fill="#f23645"/>
<rect x="1255" y="499.0" width="11" height="14.5" fill="#f23645"/>
<rect x="1274" y="450.0" width="1" height="118.0" fill="#089981"/>
<rect x="1269" y="482.4" width="11" height="30.1" fill="#089981"/>
<rect x="1287" y="463.0" width="1" height="69.8" fill="#089981"/>
<rect x="1282" y="465.7" width="11" height="16.7" fill="#089981"/>
<rect x="1301" y="414.0" width="1" height="91.7" fill="#f23645"/>
<rect x="1296" y="465.7" width="11" height="15.9" fill="#f23645"/>
<rect x="1315" y="476.0" width="1" height="27.5" fill="#f23645"/>
<rect x="1310" y="482.4" width="11" height="9.3" fill="#f23645"/>
<rect x="1328" y="484.0" width="1" height="41.8" fill="#f23645"/>
<rect x="1323" y="491.8" width="11" height="23.7" fill="#f23645"/>
<rect x="1342" y="455.0" width="1" height="66.8" fill="#089981"/>
<rect x="1337" y="462.0" width="11" height="52.5" fill="#089981"/>
<rect x="1356" y="387.0" width="1" height="87.0" fill="#089981"/>
<rect x="1351" y="398.0" width="11" height="64.8" fill="#089981"/>
<rect x="1369" y="396.4" width="1" height="34.6" fill="#f23645"/>
<rect x="1364" y="398.0" width="11" height="28.5" fill="#f23645"/>
<line x1="55" y1="426.5" x2="1404" y2="426.5" stroke="#f23645" stroke-width="1" stroke-dasharray="1 3"/>
</g>
<text x="65" y="59.3" font-size="14" fill="#262932" font-weight="400" text-anchor="start" textLength="88.8" lengthAdjust="spacingAndGlyphs" >Bitcoin/Dólar</text>
<text x="159.8" y="59.3" font-size="14" fill="#262932" font-weight="400" text-anchor="start" textLength="107.5" lengthAdjust="spacingAndGlyphs" >estadounidense,</text>
<text x="275.6" y="59.3" font-size="14" fill="#262932" font-weight="400" text-anchor="start" textLength="16.7" lengthAdjust="spacingAndGlyphs" >1D,</text>
<text x="301.3" y="59.3" font-size="14" fill="#262932" font-weight="400" text-anchor="start" textLength="62.2" lengthAdjust="spacingAndGlyphs" >BITSTAMP</text>
<text x="373.5" y="59.3" font-size="14" fill="#262932" font-weight="400" text-anchor="start" textLength="9.5" lengthAdjust="spacingAndGlyphs" >O</text>
<text x="383.5" y="59.3" font-size="14" fill="#f23645" font-weight="400" text-anchor="start" textLength="61" lengthAdjust="spacingAndGlyphs" >20343.00</text>
<text x="453.4" y="59.3" font-size="14" fill="#262932" font-weight="400" text-anchor="start" textLength="8.5" lengthAdjust="spacingAndGlyphs" >H</text>
<text x="462.3" y="59.3" font-size="14" fill="#f23645" font-weight="400" text-anchor="start" textLength="61" lengthAdjust="spacingAndGlyphs" >20366.00</text>
<text x="533" y="59.3" font-size="14" fill="#262932" font-weight="400" text-anchor="start" textLength="6.5" lengthAdjust="spacingAndGlyphs" >L</text>
<text x="541.5" y="59.3" font-size="14" fill="#f23645" font-weight="400" text-anchor="start" textLength="58.5" lengthAdjust="spacingAndGlyphs" >19967.00</text>
<text x="610" y="59.3" font-size="14" fill="#262932" font-weight="400" text-anchor="start" textLength="7.7" lengthAdjust="spacingAndGlyphs" >C</text>
<text x="617.8" y="59.3" font-size="14" fill="#f23645" font-weight="400" text-anchor="start" textLength="61" lengthAdjust="spacingAndGlyphs" >20033.00</text>
<text x="689.5" y="59.3" font-size="14" fill="#f23645" font-weight="400" text-anchor="start" textLength="112.5" lengthAdjust="spacingAndGlyphs" >−310.00 (−1.52%)</text>
<text x="812" y="59.3" font-size="14" fill="#262932" font-weight="400" text-anchor="start" textLength="24" lengthAdjust="spacingAndGlyphs" >Vol.</text>
<text x="836" y="59.3" font-size="14" fill="#f23645" font-weight="400" text-anchor="start" textLength="46" lengthAdjust="spacingAndGlyphs" >580.19</text>
<text x="65" y="80" font-size="14" fill="#262932" font-weight="400" text-anchor="start" textLength="25" lengthAdjust="spacingAndGlyphs" >Vol.</text>
<text x="100" y="80" font-size="14" fill="#ef5350" font-weight="400" text-anchor="start" textLength="23.5" lengthAdjust="spacingAndGlyphs" >580</text>
<use href="#frog" x="67.5" y="87.5"/>
<text x="90.5" y="100.5" font-size="14" fill="#262932" font-weight="400" text-anchor="start" textLength="79.5" lengthAdjust="spacingAndGlyphs" >TL_Strategy</text>
<text x="180" y="100.5" font-size="14" fill="#ff6a5c" font-weight="400" text-anchor="start" textLength="59.5" lengthAdjust="spacingAndGlyphs" >19623.42</text>
<text x="249" y="100.5" font-size="14" fill="#ff6a5c" font-weight="400" text-anchor="start" textLength="60" lengthAdjust="spacingAndGlyphs" >20460.02</text>
<text x="1416.6" y="73.8" font-size="14" fill="#262932" font-weight="400" text-anchor="start" textLength="59.8" lengthAdjust="spacingAndGlyphs" >24000.00</text>
<text x="1416.6" y="118.9" font-size="14" fill="#262932" font-weight="400" text-anchor="start" textLength="59.8" lengthAdjust="spacingAndGlyphs" >23500.00</text>
<text x="1416.6" y="164.0" font-size="14" fill="#262932" font-weight="400" text-anchor="start" textLength="59.8" lengthAdjust="spacingAndGlyphs" >23000.00</text>
<text x="1416.6" y="209.1" font-size="14" fill="#262932" font-weight="400" text-anchor="start" textLength="59.8" lengthAdjust="spacingAndGlyphs" >22500.00</text>
<text x="1416.6" y="254.20000000000002" font-size="14" fill="#262932" font-weight="400" text-anchor="start" textLength="59.8" lengthAdjust="spacingAndGlyphs" >22000.00</text>
<text x="1416.6" y="299.3" font-size="14" fill="#262932" font-weight="400" text-anchor="start" textLength="59.8" lengthAdjust="spacingAndGlyphs" >21500.00</text>
<text x="1416.6" y="344.40000000000003" font-size="14" fill="#262932" font-weight="400" text-anchor="start" textLength="59.8" lengthAdjust="spacingAndGlyphs" >21000.00</text>
<text x="1416.6" y="389.5" font-size="14" fill="#262932" font-weight="400" text-anchor="start" textLength="59.8" lengthAdjust="spacingAndGlyphs" >20500.00</text>
<text x="1416.6" y="434.6" font-size="14" fill="#262932" font-weight="400" text-anchor="start" textLength="59.8" lengthAdjust="spacingAndGlyphs" >20000.00</text>
<text x="1416.6" y="479.70000000000005" font-size="14" fill="#262932" font-weight="400" text-anchor="start" textLength="59.8" lengthAdjust="spacingAndGlyphs" >19500.00</text>
<text x="1416.6" y="524.8000000000001" font-size="14" fill="#262932" font-weight="400" text-anchor="start" textLength="59.8" lengthAdjust="spacingAndGlyphs" >19000.00</text>
<text x="1416.6" y="569.9000000000001" font-size="14" fill="#262932" font-weight="400" text-anchor="start" textLength="59.8" lengthAdjust="spacingAndGlyphs" >18500.00</text>
<text x="1416.6" y="615.0000000000001" font-size="14" fill="#262932" font-weight="400" text-anchor="start" textLength="59.8" lengthAdjust="spacingAndGlyphs" >18000.00</text>
<linearGradient id="uf" x1="0" y1="0" x2="0" y2="1"><stop offset="0" stop-color="#fff" stop-opacity="1"/><stop offset="0.8" stop-color="#fff" stop-opacity="1"/><stop offset="1" stop-color="#fff" stop-opacity="0"/></linearGradient>
<rect x="1405" y="40" width="84" height="31" fill="url(#uf)"/>
<text x="1416" y="55.9" font-size="14" fill="#262932" font-weight="400" text-anchor="start" textLength="25.2" lengthAdjust="spacingAndGlyphs" >USD</text>
<path d="M1403.5 416 H1481.5 a2.5 2.5 0 0 1 2.5 2.5 V452 a2.5 2.5 0 0 1 -2.5 2.5 H1403.5Z" fill="#f23645"/>
<text x="1416.6" y="431.4" font-size="14" fill="#fff" font-weight="400" text-anchor="start" textLength="59.8" lengthAdjust="spacingAndGlyphs" stroke="#fff" stroke-width="0.3">20033.00</text>
<text x="1416.6" y="449.4" font-size="14" fill="#fff" font-weight="400" text-anchor="start" textLength="57" lengthAdjust="spacingAndGlyphs" fill-opacity="0.8">10:53:30</text>
<text x="1416.6" y="658" font-size="14" fill="#262932" font-weight="400" text-anchor="start" textLength="51.5" lengthAdjust="spacingAndGlyphs" >5000.00</text>
<text x="1416.6" y="704.5" font-size="14" fill="#262932" font-weight="400" text-anchor="start" textLength="28.5" lengthAdjust="spacingAndGlyphs" >0.00</text>
<text x="1416.6" y="750.5" font-size="14" fill="#262932" font-weight="400" text-anchor="start" textLength="59.5" lengthAdjust="spacingAndGlyphs" >−5000.00</text>
<g clip-path="url(#bc)">
<rect x="188.8" y="636" width="12.8" height="141" fill="#ff5252" fill-opacity="0.2"/>
<rect x="1091.9" y="636" width="12.8" height="141" fill="#ff5252" fill-opacity="0.2"/>
<polygon points="55.0,700.2 55.0,726.6 85.1,717.2 112.0,706.1 124.8,700.2" fill="#800000"/>
<polygon points="124.8,700.2 124.8,700.2 138.8,693.9 152.9,689.8 166.9,687.1 177.5,685.9 177.5,700.2" fill="#00ff00"/>
<polygon points="177.5,700.2 177.5,685.9 178.1,685.8 196.4,685.8 218.8,689.0 218.8,700.2" fill="#008000"/>
<polygon points="218.8,700.2 218.8,689.0 219.7,689.1 238.0,688.6 260.0,686.6 260.0,700.2" fill="#00ff00"/>
<polygon points="260.0,700.2 260.0,686.6 260.5,686.6 275.0,687.4 275.0,700.2" fill="#008000"/>
<polygon points="275.0,700.2 275.0,687.4 275.5,687.4 288.0,685.8 304.6,682.4 330.0,681.2 330.0,700.2" fill="#00ff00"/>
<polygon points="330.0,700.2 330.0,681.2 370.0,683.7 397.4,688.7 397.4,700.2" fill="#008000"/>
<polygon points="397.4,700.2 397.4,688.7 429.8,682.4 451.0,680.0 452.3,680.0 452.3,700.2" fill="#00ff00"/>
<polygon points="452.3,700.2 452.3,680.0 469.7,680.7 504.7,686.2 529.6,690.0 559.5,693.6 559.5,700.2" fill="#008000"/>
<polygon points="559.5,700.2 559.5,693.6 573.3,693.0 574.5,693.0 574.5,700.2" fill="#00ff00"/>
<polygon points="574.5,700.2 574.5,693.0 588.2,692.6 588.2,700.2" fill="#008000"/>
<polygon points="588.2,700.2 588.2,692.6 620.0,690.5 643.0,688.7 643.0,700.2" fill="#00ff00"/>
<polygon points="643.0,700.2 643.0,688.7 679.3,691.1 704.3,693.1 711.2,693.6 711.2,700.2" fill="#008000"/>
<polygon points="711.2,700.2 711.2,693.6 727.4,700.2 727.4,700.2" fill="#ff0000"/>
<polygon points="727.4,700.2 727.4,700.2 742.4,706.0 779.8,713.6 809.7,719.3 829.7,723.6 849.7,727.3 862.1,729.3 891.6,729.6 891.6,700.2" fill="#ff0000"/>
<polygon points="891.6,700.2 891.6,729.6 892.0,729.6 929.5,727.3 959.4,724.8 979.4,719.8 1001.9,716.1 1026.8,703.6 1028.0,700.2 1028.0,700.2" fill="#800000"/>
<polygon points="1028.0,700.2 1028.0,700.2 1040.0,697.0 1055.0,692.0 1080.0,689.0 1080.0,700.2" fill="#00ff00"/>
<polygon points="1080.0,700.2 1080.0,689.0 1104.9,690.4 1129.8,692.9 1154.8,696.6 1164.7,700.2 1164.7,700.2" fill="#008000"/>
<polygon points="1164.7,700.2 1164.7,700.2 1185.0,706.2 1200.0,711.0 1353.0,716.0 1353.0,700.2" fill="#ff0000"/>
<polygon points="1353.0,700.2 1353.0,716.0 1389.5,714.0 1389.5,700.2" fill="#800000"/>
<line x1="55" y1="729.5" x2="1404" y2="729.5" stroke="#787b86" stroke-width="1" stroke-dasharray="1 3"/>
<path d="M54.6 700.1 H60.4 M57.5 697.2 V703.0" stroke="#000000" stroke-width="2.1" fill="none"/>
<path d="M68.2 700.1 H74.0 M71.1 697.2 V703.0" stroke="#000000" stroke-width="2.1" fill="none"/>
<path d="M81.9 700.1 H87.7 M84.8 697.2 V703.0" stroke="#000000" stroke-width="2.1" fill="none"/>
<path d="M95.6 700.1 H101.4 M98.5 697.2 V703.0" stroke="#000000" stroke-width="2.1" fill="none"/>
<path d="M109.2 700.1 H115.0 M112.1 697.2 V703.0" stroke="#000000" stroke-width="2.1" fill="none"/>
<path d="M122.9 700.1 H128.7 M125.8 697.2 V703.0" stroke="#000000" stroke-width="2.1" fill="none"/>
<path d="M136.6 700.1 H142.4 M139.5 697.2 V703.0" stroke="#000000" stroke-width="2.1" fill="none"/>
<path d="M150.2 700.1 H156.0 M153.1 697.2 V703.0" stroke="#000000" stroke-width="2.1" fill="none"/>
<path d="M163.9 700.1 H169.7 M166.8 697.2 V703.0" stroke="#000000" stroke-width="2.1" fill="none"/>
<path d="M177.6 700.1 H183.4 M180.5 697.2 V703.0" stroke="#000000" stroke-width="2.1" fill="none"/>
<path d="M191.2 700.1 H197.0 M194.1 697.2 V703.0" stroke="#000000" stroke-width="2.1" fill="none"/>
<path d="M204.9 700.1 H210.7 M207.8 697.2 V703.0" stroke="#000000" stroke-width="2.1" fill="none"/>
<path d="M218.6 700.1 H224.4 M221.5 697.2 V703.0" stroke="#000000" stroke-width="2.1" fill="none"/>
<path d="M232.2 700.1 H238.0 M235.1 697.2 V703.0" stroke="#000000" stroke-width="2.1" fill="none"/>
<path d="M245.9 700.1 H251.7 M248.8 697.2 V703.0" stroke="#000000" stroke-width="2.1" fill="none"/>
<path d="M259.6 700.1 H265.4 M262.5 697.2 V703.0" stroke="#000000" stroke-width="2.1" fill="none"/>
<path d="M273.2 700.1 H279.0 M276.1 697.2 V703.0" stroke="#000000" stroke-width="2.1" fill="none"/>
<path d="M286.9 700.1 H292.7 M289.8 697.2 V703.0" stroke="#000000" stroke-width="2.1" fill="none"/>
<path d="M300.6 700.1 H306.4 M303.5 697.2 V703.0" stroke="#000000" stroke-width="2.1" fill="none"/>
<path d="M314.2 700.1 H320.0 M317.1 697.2 V703.0" stroke="#000000" stroke-width="2.1" fill="none"/>
<path d="M327.9 700.1 H333.7 M330.8 697.2 V703.0" stroke="#888888" stroke-width="2.1" fill="none"/>
<path d="M341.6 700.1 H347.4 M344.5 697.2 V703.0" stroke="#888888" stroke-width="2.1" fill="none"/>
<path d="M355.2 700.1 H361.0 M358.1 697.2 V703.0" stroke="#000000" stroke-width="2.1" fill="none"/>
<path d="M368.9 700.1 H374.7 M371.8 697.2 V703.0" stroke="#000000" stroke-width="2.1" fill="none"/>
<path d="M382.6 700.1 H388.4 M385.5 697.2 V703.0" stroke="#000000" stroke-width="2.1" fill="none"/>
<path d="M396.2 700.1 H402.0 M399.1 697.2 V703.0" stroke="#000000" stroke-width="2.1" fill="none"/>
<path d="M409.9 700.1 H415.7 M412.8 697.2 V703.0" stroke="#000000" stroke-width="2.1" fill="none"/>
<path d="M423.6 700.1 H429.4 M426.5 697.2 V703.0" stroke="#888888" stroke-width="2.1" fill="none"/>
<path d="M437.2 700.1 H443.0 M440.1 697.2 V703.0" stroke="#888888" stroke-width="2.1" fill="none"/>
<path d="M450.9 700.1 H456.7 M453.8 697.2 V703.0" stroke="#888888" stroke-width="2.1" fill="none"/>
<path d="M464.6 700.1 H470.4 M467.5 697.2 V703.0" stroke="#888888" stroke-width="2.1" fill="none"/>
<path d="M478.2 700.1 H484.0 M481.1 697.2 V703.0" stroke="#000000" stroke-width="2.1" fill="none"/>
<path d="M491.9 700.1 H497.7 M494.8 697.2 V703.0" stroke="#000000" stroke-width="2.1" fill="none"/>
<path d="M505.6 700.1 H511.4 M508.5 697.2 V703.0" stroke="#000000" stroke-width="2.1" fill="none"/>
<path d="M519.2 700.1 H525.0 M522.1 697.2 V703.0" stroke="#000000" stroke-width="2.1" fill="none"/>
<path d="M532.9 700.1 H538.7 M535.8 697.2 V703.0" stroke="#000000" stroke-width="2.1" fill="none"/>
<path d="M546.6 700.1 H552.4 M549.5 697.2 V703.0" stroke="#000000" stroke-width="2.1" fill="none"/>
<path d="M560.2 700.1 H566.0 M563.1 697.2 V703.0" stroke="#000000" stroke-width="2.1" fill="none"/>
<path d="M573.9 700.1 H579.7 M576.8 697.2 V703.0" stroke="#000000" stroke-width="2.1" fill="none"/>
<path d="M587.6 700.1 H593.4 M590.5 697.2 V703.0" stroke="#000000" stroke-width="2.1" fill="none"/>
<path d="M601.2 700.1 H607.0 M604.1 697.2 V703.0" stroke="#000000" stroke-width="2.1" fill="none"/>
<path d="M614.9 700.1 H620.7 M617.8 697.2 V703.0" stroke="#000000" stroke-width="2.1" fill="none"/>
<path d="M628.6 700.1 H634.4 M631.5 697.2 V703.0" stroke="#000000" stroke-width="2.1" fill="none"/>
<path d="M642.2 700.1 H648.0 M645.1 697.2 V703.0" stroke="#000000" stroke-width="2.1" fill="none"/>
<path d="M655.9 700.1 H661.7 M658.8 697.2 V703.0" stroke="#000000" stroke-width="2.1" fill="none"/>
<path d="M669.6 700.1 H675.4 M672.5 697.2 V703.0" stroke="#000000" stroke-width="2.1" fill="none"/>
<path d="M683.2 700.1 H689.0 M686.1 697.2 V703.0" stroke="#000000" stroke-width="2.1" fill="none"/>
<path d="M696.9 700.1 H702.7 M699.8 697.2 V703.0" stroke="#000000" stroke-width="2.1" fill="none"/>
<path d="M710.6 700.1 H716.4 M713.5 697.2 V703.0" stroke="#000000" stroke-width="2.1" fill="none"/>
<path d="M724.2 700.1 H730.0 M727.1 697.2 V703.0" stroke="#000000" stroke-width="2.1" fill="none"/>
<path d="M737.9 700.1 H743.7 M740.8 697.2 V703.0" stroke="#000000" stroke-width="2.1" fill="none"/>
<path d="M751.6 700.1 H757.4 M754.5 697.2 V703.0" stroke="#888888" stroke-width="2.1" fill="none"/>
<path d="M765.2 700.1 H771.0 M768.1 697.2 V703.0" stroke="#888888" stroke-width="2.1" fill="none"/>
<path d="M778.9 700.1 H784.7 M781.8 697.2 V703.0" stroke="#888888" stroke-width="2.1" fill="none"/>
<path d="M792.6 700.1 H798.4 M795.5 697.2 V703.0" stroke="#888888" stroke-width="2.1" fill="none"/>
<path d="M806.2 700.1 H812.0 M809.1 697.2 V703.0" stroke="#888888" stroke-width="2.1" fill="none"/>
<path d="M819.9 700.1 H825.7 M822.8 697.2 V703.0" stroke="#888888" stroke-width="2.1" fill="none"/>
<path d="M833.6 700.1 H839.4 M836.5 697.2 V703.0" stroke="#888888" stroke-width="2.1" fill="none"/>
<path d="M847.2 700.1 H853.0 M850.1 697.2 V703.0" stroke="#888888" stroke-width="2.1" fill="none"/>
<path d="M860.9 700.1 H866.7 M863.8 697.2 V703.0" stroke="#888888" stroke-width="2.1" fill="none"/>
<path d="M874.6 700.1 H880.4 M877.5 697.2 V703.0" stroke="#888888" stroke-width="2.1" fill="none"/>
<path d="M888.2 700.1 H894.0 M891.1 697.2 V703.0" stroke="#888888" stroke-width="2.1" fill="none"/>
<path d="M901.9 700.1 H907.7 M904.8 697.2 V703.0" stroke="#888888" stroke-width="2.1" fill="none"/>
<path d="M915.6 700.1 H921.4 M918.5 697.2 V703.0" stroke="#888888" stroke-width="2.1" fill="none"/>
<path d="M929.2 700.1 H935.0 M932.1 697.2 V703.0" stroke="#888888" stroke-width="2.1" fill="none"/>
<path d="M942.9 700.1 H948.7 M945.8 697.2 V703.0" stroke="#888888" stroke-width="2.1" fill="none"/>
<path d="M956.6 700.1 H962.4 M959.5 697.2 V703.0" stroke="#888888" stroke-width="2.1" fill="none"/>
<path d="M970.2 700.1 H976.0 M973.1 697.2 V703.0" stroke="#888888" stroke-width="2.1" fill="none"/>
<path d="M983.9 700.1 H989.7 M986.8 697.2 V703.0" stroke="#000000" stroke-width="2.1" fill="none"/>
<path d="M997.6 700.1 H1003.4 M1000.5 697.2 V703.0" stroke="#888888" stroke-width="2.1" fill="none"/>
<path d="M1011.2 700.1 H1017.0 M1014.1 697.2 V703.0" stroke="#888888" stroke-width="2.1" fill="none"/>
<path d="M1024.9 700.1 H1030.7 M1027.8 697.2 V703.0" stroke="#888888" stroke-width="2.1" fill="none"/>
<path d="M1038.6 700.1 H1044.4 M1041.5 697.2 V703.0" stroke="#888888" stroke-width="2.1" fill="none"/>
<path d="M1052.2 700.1 H1058.0 M1055.1 697.2 V703.0" stroke="#888888" stroke-width="2.1" fill="none"/>
<path d="M1065.9 700.1 H1071.7 M1068.8 697.2 V703.0" stroke="#000000" stroke-width="2.1" fill="none"/>
<path d="M1079.6 700.1 H1085.4 M1082.5 697.2 V703.0" stroke="#000000" stroke-width="2.1" fill="none"/>
<path d="M1093.2 700.1 H1099.0 M1096.1 697.2 V703.0" stroke="#000000" stroke-width="2.1" fill="none"/>
<path d="M1106.9 700.1 H1112.7 M1109.8 697.2 V703.0" stroke="#000000" stroke-width="2.1" fill="none"/>
<path d="M1120.6 700.1 H1126.4 M1123.5 697.2 V703.0" stroke="#000000" stroke-width="2.1" fill="none"/>
<path d="M1134.2 700.1 H1140.0 M1137.1 697.2 V703.0" stroke="#000000" stroke-width="2.1" fill="none"/>
<path d="M1147.9 700.1 H1153.7 M1150.8 697.2 V703.0" stroke="#000000" stroke-width="2.1" fill="none"/>
<path d="M1161.6 700.1 H1167.4 M1164.5 697.2 V703.0" stroke="#888888" stroke-width="2.1" fill="none"/>
<path d="M1175.2 700.1 H1181.0 M1178.1 697.2 V703.0" stroke="#888888" stroke-width="2.1" fill="none"/>
<path d="M1188.9 700.1 H1194.7 M1191.8 697.2 V703.0" stroke="#888888" stroke-width="2.1" fill="none"/>
<path d="M1202.6 700.1 H1208.4 M1205.5 697.2 V703.0" stroke="#888888" stroke-width="2.1" fill="none"/>
<path d="M1216.2 700.1 H1222.0 M1219.1 697.2 V703.0" stroke="#888888" stroke-width="2.1" fill="none"/>
<path d="M1229.9 700.1 H1235.7 M1232.8 697.2 V703.0" stroke="#888888" stroke-width="2.1" fill="none"/>
<path d="M1243.6 700.1 H1249.4 M1246.5 697.2 V703.0" stroke="#888888" stroke-width="2.1" fill="none"/>
<path d="M1257.2 700.1 H1263.0 M1260.1 697.2 V703.0" stroke="#888888" stroke-width="2.1" fill="none"/>
<path d="M1270.9 700.1 H1276.7 M1273.8 697.2 V703.0" stroke="#888888" stroke-width="2.1" fill="none"/>
<path d="M1284.6 700.1 H1290.4 M1287.5 697.2 V703.0" stroke="#888888" stroke-width="2.1" fill="none"/>
<path d="M1298.2 700.1 H1304.0 M1301.1 697.2 V703.0" stroke="#888888" stroke-width="2.1" fill="none"/>
<path d="M1311.9 700.1 H1317.7 M1314.8 697.2 V703.0" stroke="#888888" stroke-width="2.1" fill="none"/>
<path d="M1325.6 700.1 H1331.4 M1328.5 697.2 V703.0" stroke="#888888" stroke-width="2.1" fill="none"/>
<path d="M1339.2 700.1 H1345.0 M1342.1 697.2 V703.0" stroke="#888888" stroke-width="2.1" fill="none"/>
<path d="M1352.9 700.1 H1358.7 M1355.8 697.2 V703.0" stroke="#888888" stroke-width="2.1" fill="none"/>
<path d="M1366.6 700.1 H1372.4 M1369.5 697.2 V703.0" stroke="#888888" stroke-width="2.1" fill="none"/>
<rect x="1185.2" y="641" width="204.6" height="32" fill="#fc8a8a"/>
<rect x="1185.2" y="674" width="204.6" height="32" fill="#800000"/>
<rect x="1185.2" y="707" width="204.6" height="32" fill="#f5821f"/>
<rect x="1185.2" y="740" width="204.6" height="32" fill="#72767c"/>
<text x="1191.7" y="661" font-size="16" fill="#fff" font-weight="400" text-anchor="start" textLength="36.6" lengthAdjust="spacingAndGlyphs" stroke="#fff" stroke-width="0.7">EMA:</text>
<text x="1235.8" y="661" font-size="16" fill="#fff" font-weight="400" text-anchor="start" textLength="16.8" lengthAdjust="spacingAndGlyphs" stroke="#fff" stroke-width="0.7">10</text>
<text x="1259.5" y="661" font-size="16" fill="#fff" font-weight="400" text-anchor="start" textLength="7.5" lengthAdjust="spacingAndGlyphs" stroke="#fff" stroke-width="0.7">&lt;</text>
<text x="1273.3" y="661" font-size="16" fill="#fff" font-weight="400" text-anchor="start" textLength="17.4" lengthAdjust="spacingAndGlyphs" stroke="#fff" stroke-width="0.7">55</text>
<text x="1296.5" y="661" font-size="16" fill="#fff" font-weight="400" text-anchor="start" textLength="11.7" lengthAdjust="spacingAndGlyphs" stroke="#fff" stroke-width="0.7">↘</text>
<text x="1191.7" y="694.6" font-size="16" fill="#fff" font-weight="400" text-anchor="start" textLength="30.4" lengthAdjust="spacingAndGlyphs" stroke="#fff" stroke-width="0.7">DIR:</text>
<text x="1228.4" y="694.6" font-size="16" fill="#fff" font-weight="400" text-anchor="start" textLength="12.4" lengthAdjust="spacingAndGlyphs" stroke="#fff" stroke-width="0.7">↗</text>
<text x="1245.8" y="694.6" font-size="16" fill="#fff" font-weight="400" text-anchor="start" textLength="61.1" lengthAdjust="spacingAndGlyphs" stroke="#fff" stroke-width="0.7">Impulso</text>
<text x="1311.4" y="694.6" font-size="16" fill="#fff" font-weight="400" text-anchor="start" textLength="51.7" lengthAdjust="spacingAndGlyphs" stroke="#fff" stroke-width="0.7">Alcista</text>
<text x="1191.7" y="727" font-size="16" fill="#fff" font-weight="400" text-anchor="start" textLength="35.4" lengthAdjust="spacingAndGlyphs" stroke="#fff" stroke-width="0.7">ADX:</text>
<text x="1235.1" y="727" font-size="16" fill="#fff" font-weight="400" text-anchor="start" textLength="16.9" lengthAdjust="spacingAndGlyphs" stroke="#fff" stroke-width="0.7">18</text>
<text x="1258" y="727" font-size="16" fill="#fff" font-weight="400" text-anchor="start" textLength="11.5" lengthAdjust="spacingAndGlyphs" stroke="#fff" stroke-width="0.7">↘</text>
<text x="1274" y="727" font-size="16" fill="#fff" font-weight="400" text-anchor="start" textLength="22.5" lengthAdjust="spacingAndGlyphs" stroke="#fff" stroke-width="0.7">Sin</text>
<text x="1302" y="727" font-size="16" fill="#fff" font-weight="400" text-anchor="start" textLength="78.5" lengthAdjust="spacingAndGlyphs" stroke="#fff" stroke-width="0.7">Tendencia</text>
<text x="1191.7" y="760" font-size="16" fill="#fff" font-weight="400" text-anchor="start" textLength="64.1" lengthAdjust="spacingAndGlyphs" stroke="#fff" stroke-width="0.7">Squeeze</text>
<text x="1262" y="760" font-size="16" fill="#fff" font-weight="400" text-anchor="start" textLength="21.2" lengthAdjust="spacingAndGlyphs" stroke="#fff" stroke-width="0.7">ON</text>
<polyline points="55.0,649.7 80.0,649.7 96.6,652.0 113.2,657.5 129.9,665.0 146.5,677.4 163.2,688.3 179.8,695.7 196.4,699.6 213.1,701.2 229.7,704.1 246.3,709.1 263.0,714.9 274.6,718.2" fill="none" stroke="#b71c2b" stroke-width="3.7" stroke-linejoin="round" stroke-linecap="butt"/>
<polyline points="274.6,718.2 288.0,722.4 304.6,724.0 315.0,724.6 330.0,726.0 343.7,726.8" fill="none" stroke="#3c8f3c" stroke-width="3.7" stroke-linejoin="round" stroke-linecap="butt"/>
<polyline points="343.7,726.8 367.4,731.8 384.9,737.3 412.3,741.8 439.8,739.8 464.7,737.8 489.7,740.3 514.6,743.5 539.6,746.0 563.3,748.5 589.5,746.5 604.4,744.8 629.4,741.0 656.8,735.3 684.3,734.3 695.0,737.3 713.7,740.3 739.9,736.8 767.3,737.3 789.8,739.3 808.5,741.5 829.7,736.0 849.7,730.3 862.1,729.0" fill="none" stroke="#f08326" stroke-width="3.7" stroke-linejoin="round" stroke-linecap="butt"/>
<polyline points="862.1,729.0 892.0,729.5" fill="none" stroke="#b71c2b" stroke-width="3.7" stroke-linejoin="round" stroke-linecap="butt"/>
<polyline points="892.0,729.5 929.5,727.5 959.4,724.6 979.4,719.6 999.4,712.0" fill="none" stroke="#8a0c16" stroke-width="3.7" stroke-linejoin="round" stroke-linecap="butt"/>
<polyline points="999.4,712.0 1016.8,718.6 1034.3,722.6 1053.7,723.8" fill="none" stroke="#3c8f3c" stroke-width="3.7" stroke-linejoin="round" stroke-linecap="butt"/>
<polyline points="1053.7,723.8 1067.4,728.5" fill="none" stroke="#b71c2b" stroke-width="3.7" stroke-linejoin="round" stroke-linecap="butt"/>
<polyline points="1067.4,728.5 1104.9,735.3 1137.3,738.8 1159.7,735.3 1174.7,731.3" fill="none" stroke="#f08326" stroke-width="3.7" stroke-linejoin="round" stroke-linecap="butt"/>
<polyline points="1174.7,731.3 1204.7,723.3 1244.6,715.8 1264.5,721.6 1284.5,726.3" fill="none" stroke="#8a0c16" stroke-width="3.7" stroke-linejoin="round" stroke-linecap="butt"/>
<polyline points="1284.5,726.3 1319.4,738.8 1341.9,745.3 1370.6,746.5" fill="none" stroke="#f08326" stroke-width="3.7" stroke-linejoin="round" stroke-linecap="butt"/>
</g>
<use href="#frog" x="67.5" y="647.5"/>
<text x="90" y="659.5" font-size="14" fill="#262932" font-weight="400" text-anchor="start" textLength="23.8" lengthAdjust="spacingAndGlyphs" >ADX</text>
<text x="120" y="659.5" font-size="14" fill="#262932" font-weight="400" text-anchor="start" textLength="26.2" lengthAdjust="spacingAndGlyphs" >PRO</text>
<text x="153" y="659.5" font-size="14" fill="#262932" font-weight="400" text-anchor="start" textLength="64.5" lengthAdjust="spacingAndGlyphs" >[APIDEVS]</text>
<text x="228" y="659.5" font-size="14" fill="#ee8428" font-weight="400" text-anchor="start" textLength="15" lengthAdjust="spacingAndGlyphs" >18</text>
<text x="252.6" y="659.7" font-size="16" fill="#262932" font-weight="400" text-anchor="start" textLength="8.2" lengthAdjust="spacingAndGlyphs" >ø</text>
<text x="271.8" y="659.7" font-size="16" fill="#262932" font-weight="400" text-anchor="start" textLength="8.2" lengthAdjust="spacingAndGlyphs" >ø</text>
<use href="#frog" x="67.5" y="668"/>
<text x="90" y="680" font-size="14" fill="#262932" font-weight="400" text-anchor="start" textLength="56.2" lengthAdjust="spacingAndGlyphs" >SQZMOM</text>
<text x="152.5" y="680" font-size="14" fill="#262932" font-weight="400" text-anchor="start" textLength="24.5" lengthAdjust="spacingAndGlyphs" >ADX</text>
<text x="182.5" y="680" font-size="14" fill="#262932" font-weight="400" text-anchor="start" textLength="34.5" lengthAdjust="spacingAndGlyphs" >PRO+</text>
<text x="228" y="680" font-size="14" fill="#9a1020" font-weight="400" text-anchor="start" textLength="43" lengthAdjust="spacingAndGlyphs" >−72.09</text>
<text x="281" y="680" font-size="14" fill="#333" font-weight="400" text-anchor="start" textLength="28.5" lengthAdjust="spacingAndGlyphs" >0.00</text>
<text x="27.5" y="675.8" font-size="14" fill="#555" font-weight="400" text-anchor="start" textLength="15.5" lengthAdjust="spacingAndGlyphs" >40</text>
<text x="27.5" y="744.5" font-size="14" fill="#555" font-weight="400" text-anchor="start" textLength="15.5" lengthAdjust="spacingAndGlyphs" >20</text>
<circle cx="33.7" cy="793.9" r="12" fill="#eff1f6"/>
<text x="33.7" y="798.7" font-size="13" fill="#6a6d78" font-weight="400" text-anchor="middle" >Z</text>
<circle cx="1446.7" cy="794" r="12.8" fill="#eff1f6"/>
<text x="1446.7" y="798.8" font-size="13" fill="#6a6d78" font-weight="400" text-anchor="middle" >A</text>
<text x="55" y="799.4" font-size="14" fill="#262932" font-weight="700" text-anchor="start" >ul</text>
<text x="193.92" y="799.4" font-size="14" fill="#262932" font-weight="400" text-anchor="middle" >11</text>
<text x="303.256" y="799.4" font-size="14" fill="#262932" font-weight="400" text-anchor="middle" >19</text>
<text x="480.927" y="799.4" font-size="14" fill="#262932" font-weight="700" text-anchor="middle" >Ago</text>
<text x="672.265" y="799.4" font-size="14" fill="#262932" font-weight="400" text-anchor="middle" >15</text>
<text x="781.601" y="799.4" font-size="14" fill="#262932" font-weight="400" text-anchor="middle" >23</text>
<text x="904.604" y="799.4" font-size="14" fill="#262932" font-weight="700" text-anchor="middle" >Sep</text>
<text x="1054.941" y="799.4" font-size="14" fill="#262932" font-weight="400" text-anchor="middle" >12</text>
<text x="1164.277" y="799.4" font-size="14" fill="#262932" font-weight="400" text-anchor="middle" >20</text>
<text x="1314.614" y="799.4" font-size="14" fill="#262932" font-weight="700" text-anchor="middle" >Oct</text>
<text x="13.3" y="25" font-size="14" fill="#1f222c" font-weight="400" text-anchor="start" textLength="86.6" lengthAdjust="spacingAndGlyphs" >JoseAntonioL</text>
<text x="107.2" y="25" font-size="14" fill="#1f222c" font-weight="400" text-anchor="start" textLength="64.2" lengthAdjust="spacingAndGlyphs" >publicado</text>
<text x="177.1" y="25" font-size="14" fill="#1f222c" font-weight="400" text-anchor="start" textLength="15.0" lengthAdjust="spacingAndGlyphs" >en</text>
<text x="196.4" y="25" font-size="14" fill="#1f222c" font-weight="400" text-anchor="start" textLength="116.5" lengthAdjust="spacingAndGlyphs" >TradingView.com,</text>
<text x="320.2" y="25" font-size="14" fill="#1f222c" font-weight="400" text-anchor="start" textLength="22.7" lengthAdjust="spacingAndGlyphs" >Oct</text>
<text x="349.5" y="25" font-size="14" fill="#1f222c" font-weight="400" text-anchor="start" textLength="18.3" lengthAdjust="spacingAndGlyphs" >05,</text>
<text x="374.5" y="25" font-size="14" fill="#1f222c" font-weight="400" text-anchor="start" textLength="30.0" lengthAdjust="spacingAndGlyphs" >2022</text>
<text x="411.1" y="25" font-size="14" fill="#1f222c" font-weight="400" text-anchor="start" textLength="34.3" lengthAdjust="spacingAndGlyphs" >13:06</text>
<text x="451.7" y="25" font-size="14" fill="#1f222c" font-weight="400" text-anchor="start" textLength="26.7" lengthAdjust="spacingAndGlyphs" >UTC</text>
<g transform="translate(12.9,825.0) scale(0.688)" fill="#131722"><path d="M14 22H7V11H0V4h14v18zM28 22h-8l7.5-18h8L28 22z"/><circle cx="20" cy="8" r="4"/></g>
<text x="43.3" y="839.7" font-size="16" fill="#1e222d" font-weight="400" text-anchor="start" textLength="86.3" lengthAdjust="spacingAndGlyphs" >TradingView</text>
</svg>
</body></html>
